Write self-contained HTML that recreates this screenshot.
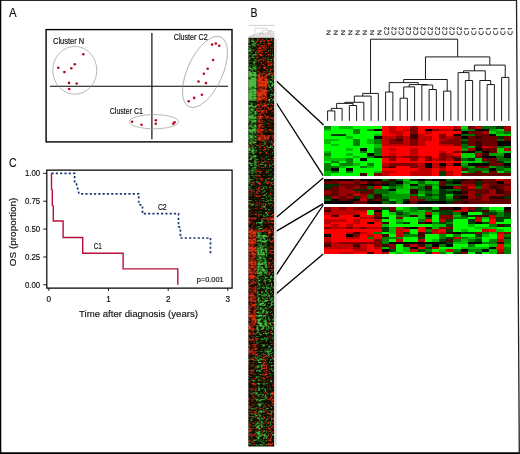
<!DOCTYPE html><html><head><meta charset="utf-8"><title>Figure</title>
<style>html,body{margin:0;padding:0;background:#fff}svg{display:block}text{font-family:"Liberation Sans",sans-serif;fill:#111;stroke:#111;stroke-width:0.17px}</style></head><body>
<svg width="520" height="454" viewBox="0 0 520 454">
<rect width="520" height="454" fill="#fff"/>
<g opacity="0.999">
<g stroke="#000" fill="none">
<line x1="0" y1="0.45" x2="517" y2="0.45" stroke-width="0.9"/>
<line x1="0.65" y1="0" x2="0.65" y2="454" stroke-width="1.3"/>
<line x1="0" y1="453.2" x2="520" y2="453.2" stroke-width="1.7"/>
<line x1="516.5" y1="0" x2="519.3" y2="454" stroke-width="1.3" stroke="#222"/>
</g>
<text x="9.1" y="16.9" font-size="12.4" text-anchor="start" textLength="7.6" lengthAdjust="spacingAndGlyphs">A</text>
<text x="250.6" y="17.1" font-size="12.3" text-anchor="start" textLength="7" lengthAdjust="spacingAndGlyphs">B</text>
<text x="9.0" y="167.0" font-size="12.6" text-anchor="start" textLength="7.6" lengthAdjust="spacingAndGlyphs">C</text>
<rect x="46.1" y="29.6" width="185.9" height="112.3" fill="none" stroke="#000" stroke-width="1.4"/>
<line x1="50" y1="86.2" x2="228" y2="86.2" stroke="#000" stroke-width="1.15"/>
<line x1="151.9" y1="33" x2="151.9" y2="139.2" stroke="#000" stroke-width="1.15"/>
<g fill="none" stroke="#9a9a9a" stroke-width="0.7">
<ellipse cx="74.8" cy="70.3" rx="22" ry="23.9"/>
<ellipse cx="154" cy="121.7" rx="24.5" ry="7.1"/>
<ellipse cx="205" cy="71.9" rx="17.5" ry="38.3" transform="rotate(24.5 205 71.9)"/>
</g>
<g fill="#b00d23">
<circle cx="83.3" cy="54.2" r="1.3"/>
<circle cx="74.8" cy="64.2" r="1.3"/>
<circle cx="71.3" cy="68.3" r="1.3"/>
<circle cx="58.3" cy="67.7" r="1.3"/>
<circle cx="64.4" cy="72.1" r="1.3"/>
<circle cx="69.0" cy="82.9" r="1.3"/>
<circle cx="76.7" cy="83.5" r="1.3"/>
<circle cx="69.2" cy="89.0" r="1.3"/>
<circle cx="212.1" cy="44.6" r="1.3"/>
<circle cx="215.8" cy="43.5" r="1.3"/>
<circle cx="219.2" cy="45.8" r="1.3"/>
<circle cx="213.1" cy="60" r="1.3"/>
<circle cx="207.7" cy="68.8" r="1.3"/>
<circle cx="203.8" cy="73.7" r="1.3"/>
<circle cx="198.5" cy="81.5" r="1.3"/>
<circle cx="206" cy="83.1" r="1.3"/>
<circle cx="201.9" cy="94.8" r="1.3"/>
<circle cx="194.2" cy="97.9" r="1.3"/>
<circle cx="188.7" cy="101.2" r="1.3"/>
<circle cx="132.1" cy="121.7" r="1.3"/>
<circle cx="141.5" cy="124.8" r="1.3"/>
<circle cx="155.8" cy="120.2" r="1.3"/>
<circle cx="155.8" cy="123.8" r="1.3"/>
<circle cx="174.6" cy="122.3" r="1.3"/>
<circle cx="173.3" cy="123.7" r="1.3"/>
</g>
<text x="53" y="43.5" font-size="8.6" text-anchor="start" textLength="31.2" lengthAdjust="spacingAndGlyphs">Cluster N</text>
<text x="173.7" y="39.6" font-size="8.6" text-anchor="start" textLength="34" lengthAdjust="spacingAndGlyphs">Cluster C2</text>
<text x="109.8" y="114" font-size="8.6" text-anchor="start" textLength="33.1" lengthAdjust="spacingAndGlyphs">Cluster C1</text>
<path d="M46.8 288.2V170.2H232.1V288.2Z" fill="none" stroke="#000" stroke-width="1.2"/>
<g stroke="#000" stroke-width="0.9">
<line x1="43.2" y1="173.3" x2="46.8" y2="173.3"/>
<line x1="43.2" y1="201.2" x2="46.8" y2="201.2"/>
<line x1="43.2" y1="229.1" x2="46.8" y2="229.1"/>
<line x1="43.2" y1="257.0" x2="46.8" y2="257.0"/>
<line x1="43.2" y1="284.8" x2="46.8" y2="284.8"/>
<line x1="48.9" y1="288.2" x2="48.9" y2="290.9"/>
<line x1="108.5" y1="288.2" x2="108.5" y2="290.9"/>
<line x1="168.2" y1="288.2" x2="168.2" y2="290.9"/>
<line x1="227.8" y1="288.2" x2="227.8" y2="290.9"/>
</g>
<text x="40.2" y="176.10000000000002" font-size="8.2" text-anchor="end" textLength="15.2" lengthAdjust="spacingAndGlyphs">1.00</text>
<text x="40.2" y="204.0" font-size="8.2" text-anchor="end" textLength="15.2" lengthAdjust="spacingAndGlyphs">0.75</text>
<text x="40.2" y="231.9" font-size="8.2" text-anchor="end" textLength="15.2" lengthAdjust="spacingAndGlyphs">0.50</text>
<text x="40.2" y="259.8" font-size="8.2" text-anchor="end" textLength="15.2" lengthAdjust="spacingAndGlyphs">0.25</text>
<text x="40.2" y="287.6" font-size="8.2" text-anchor="end" textLength="15.2" lengthAdjust="spacingAndGlyphs">0.00</text>
<text x="48.9" y="302.3" font-size="8.2" text-anchor="middle">0</text>
<text x="108.5" y="302.3" font-size="8.2" text-anchor="middle">1</text>
<text x="168.2" y="302.3" font-size="8.2" text-anchor="middle">2</text>
<text x="227.8" y="302.3" font-size="8.2" text-anchor="middle">3</text>
<text x="79" y="316.8" font-size="9.9" text-anchor="start" textLength="119" lengthAdjust="spacingAndGlyphs">Time after diagnosis (years)</text>
<text transform="translate(16.4,231.9) rotate(-90)" font-size="9.7" text-anchor="middle" textLength="68.6" lengthAdjust="spacingAndGlyphs">OS (proportion)</text>
<path d="M51.5 173.3V189.4L52.3 190V205.4L53.3 206V221H63.1V237.5H82.7V253.2H123.1V268.9H177.8V284.7" fill="none" stroke="#b5103a" stroke-width="1.4"/>
<path d="M51.5 173.3H74.6V183.3L76.5 184L79 193.8H138.7V204.4L142.5 205.5V213.7H178.5V226.5L180.4 227.5V238H210.5V253.7" fill="none" stroke="#1f3b73" stroke-width="1.7" stroke-dasharray="2.2 2.1"/>
<text x="157.9" y="209.7" font-size="8.2" text-anchor="start" textLength="8.8" lengthAdjust="spacingAndGlyphs">C2</text>
<text x="93.8" y="248.6" font-size="8.2" text-anchor="start" textLength="8" lengthAdjust="spacingAndGlyphs">C1</text>
<text x="196.7" y="282.1" font-size="7.6" text-anchor="start" textLength="27" lengthAdjust="spacingAndGlyphs">p=0.001</text>
<g shape-rendering="crispEdges">
<rect x="324.2" y="126.3" width="186.60" height="49.20" fill="#000"/>
<path fill="#008000" d="M324.20 126.30h7.23v2.49h-7.23zM324.20 153.36h7.23v2.49h-7.23zM324.20 163.20h7.23v7.41h-7.23zM331.38 160.74h7.23v2.49h-7.23zM331.38 165.66h7.23v2.49h-7.23zM331.38 170.58h7.23v2.49h-7.23zM338.55 163.20h7.23v2.49h-7.23zM345.73 158.28h7.23v7.41h-7.23zM345.73 170.58h7.23v2.49h-7.23zM352.91 128.76h7.23v4.95h-7.23zM352.91 138.60h7.23v7.41h-7.23zM360.08 150.90h7.23v2.49h-7.23zM360.08 165.66h7.23v2.49h-7.23zM367.26 128.76h7.23v2.49h-7.23zM367.26 155.82h7.23v2.49h-7.23zM367.26 163.20h7.23v2.49h-7.23zM374.44 138.60h7.23v4.95h-7.23zM374.44 148.44h7.23v7.41h-7.23z"/>
<path fill="#00bf00" d="M324.20 128.76h7.23v2.49h-7.23zM324.20 138.60h7.23v4.95h-7.23zM324.20 150.90h7.23v2.49h-7.23zM324.20 155.82h7.23v4.95h-7.23zM324.20 170.58h7.23v4.95h-7.23zM331.38 138.60h7.23v2.49h-7.23zM331.38 143.52h7.23v2.49h-7.23zM331.38 158.28h7.23v2.49h-7.23zM338.55 126.30h7.23v2.49h-7.23zM338.55 158.28h7.23v2.49h-7.23zM338.55 165.66h7.23v2.49h-7.23zM345.73 126.30h7.23v2.49h-7.23zM345.73 136.14h7.23v2.49h-7.23zM345.73 148.44h7.23v2.49h-7.23zM345.73 153.36h7.23v2.49h-7.23zM352.91 155.82h7.23v2.49h-7.23zM352.91 163.20h7.23v2.49h-7.23zM367.26 138.60h7.23v4.95h-7.23zM367.26 165.66h7.23v2.49h-7.23zM374.44 133.68h7.23v2.49h-7.23zM374.44 143.52h7.23v4.95h-7.23zM374.44 170.58h7.23v2.49h-7.23z"/>
<path fill="#00ff00" d="M324.20 131.22h7.23v7.41h-7.23zM324.20 143.52h7.23v7.41h-7.23zM324.20 160.74h7.23v2.49h-7.23zM331.38 126.30h7.23v7.41h-7.23zM331.38 136.14h7.23v2.49h-7.23zM331.38 141.06h7.23v2.49h-7.23zM331.38 145.98h7.23v12.33h-7.23zM331.38 163.20h7.23v2.49h-7.23zM331.38 173.04h7.23v2.49h-7.23zM338.55 128.76h7.23v4.95h-7.23zM338.55 136.14h7.23v22.17h-7.23zM338.55 160.74h7.23v2.49h-7.23zM338.55 168.12h7.23v7.41h-7.23zM345.73 128.76h7.23v7.41h-7.23zM345.73 138.60h7.23v9.87h-7.23zM345.73 150.90h7.23v2.49h-7.23zM345.73 155.82h7.23v2.49h-7.23zM345.73 165.66h7.23v2.49h-7.23zM345.73 173.04h7.23v2.49h-7.23zM352.91 126.30h7.23v2.49h-7.23zM352.91 133.68h7.23v4.95h-7.23zM352.91 145.98h7.23v9.87h-7.23zM352.91 158.28h7.23v4.95h-7.23zM352.91 165.66h7.23v9.87h-7.23zM360.08 126.30h7.23v22.17h-7.23zM360.08 153.36h7.23v4.95h-7.23zM360.08 160.74h7.23v4.95h-7.23zM360.08 168.12h7.23v4.95h-7.23zM367.26 126.30h7.23v2.49h-7.23zM367.26 131.22h7.23v7.41h-7.23zM367.26 143.52h7.23v9.87h-7.23zM367.26 158.28h7.23v4.95h-7.23zM367.26 168.12h7.23v7.41h-7.23zM374.44 126.30h7.23v2.49h-7.23zM374.44 131.22h7.23v2.49h-7.23zM374.44 158.28h7.23v12.33h-7.23z"/>
<path fill="#003d00" d="M331.38 133.68h7.23v2.49h-7.23zM338.55 133.68h7.23v2.49h-7.23zM439.03 170.58h7.23v4.95h-7.23z"/>
<path fill="#420000" d="M360.08 173.04h7.23v2.49h-7.23zM388.79 165.66h7.23v2.49h-7.23zM395.97 138.60h7.23v2.49h-7.23zM410.32 133.68h7.23v4.95h-7.23zM453.38 128.76h7.23v2.49h-7.23zM453.38 158.28h7.23v2.49h-7.23z"/>
<path fill="#800000" d="M374.44 173.04h7.23v2.49h-7.23zM381.62 155.82h7.23v2.49h-7.23zM381.62 165.66h7.23v2.49h-7.23zM388.79 138.60h7.23v4.95h-7.23zM388.79 155.82h7.23v4.95h-7.23zM388.79 163.20h7.23v2.49h-7.23zM395.97 136.14h7.23v2.49h-7.23zM395.97 141.06h7.23v2.49h-7.23zM395.97 163.20h7.23v2.49h-7.23zM403.15 155.82h7.23v2.49h-7.23zM403.15 163.20h7.23v2.49h-7.23zM410.32 126.30h7.23v7.41h-7.23zM410.32 138.60h7.23v7.41h-7.23zM410.32 155.82h7.23v4.95h-7.23zM410.32 163.20h7.23v4.95h-7.23zM424.68 155.82h7.23v4.95h-7.23zM431.85 128.76h7.23v2.49h-7.23zM439.03 133.68h7.23v4.95h-7.23zM439.03 141.06h7.23v2.49h-7.23zM439.03 153.36h7.23v7.41h-7.23zM439.03 165.66h7.23v2.49h-7.23zM446.21 138.60h7.23v4.95h-7.23zM446.21 155.82h7.23v2.49h-7.23zM453.38 136.14h7.23v9.87h-7.23zM453.38 150.90h7.23v2.49h-7.23zM453.38 155.82h7.23v2.49h-7.23z"/>
<path fill="#ff0000" d="M381.62 126.30h7.23v9.87h-7.23zM381.62 145.98h7.23v9.87h-7.23zM381.62 158.28h7.23v4.95h-7.23zM381.62 168.12h7.23v2.49h-7.23zM388.79 133.68h7.23v2.49h-7.23zM388.79 145.98h7.23v2.49h-7.23zM388.79 150.90h7.23v2.49h-7.23zM388.79 160.74h7.23v2.49h-7.23zM388.79 168.12h7.23v2.49h-7.23zM388.79 173.04h7.23v2.49h-7.23zM395.97 126.30h7.23v4.95h-7.23zM395.97 145.98h7.23v9.87h-7.23zM395.97 158.28h7.23v4.95h-7.23zM395.97 165.66h7.23v9.87h-7.23zM403.15 126.30h7.23v2.49h-7.23zM403.15 131.22h7.23v4.95h-7.23zM403.15 145.98h7.23v9.87h-7.23zM403.15 158.28h7.23v4.95h-7.23zM403.15 165.66h7.23v9.87h-7.23zM410.32 145.98h7.23v2.49h-7.23zM410.32 160.74h7.23v2.49h-7.23zM410.32 168.12h7.23v2.49h-7.23zM417.50 126.30h7.23v7.41h-7.23zM417.50 145.98h7.23v9.87h-7.23zM417.50 158.28h7.23v4.95h-7.23zM424.68 126.30h7.23v2.49h-7.23zM424.68 133.68h7.23v2.49h-7.23zM424.68 141.06h7.23v14.79h-7.23zM424.68 160.74h7.23v2.49h-7.23zM431.85 126.30h7.23v2.49h-7.23zM431.85 131.22h7.23v27.09h-7.23zM431.85 160.74h7.23v2.49h-7.23zM431.85 168.12h7.23v7.41h-7.23zM439.03 126.30h7.23v2.49h-7.23zM439.03 131.22h7.23v2.49h-7.23zM439.03 145.98h7.23v4.95h-7.23zM439.03 160.74h7.23v2.49h-7.23zM446.21 126.30h7.23v2.49h-7.23zM446.21 131.22h7.23v4.95h-7.23zM446.21 145.98h7.23v7.41h-7.23zM446.21 160.74h7.23v2.49h-7.23zM446.21 165.66h7.23v4.95h-7.23zM453.38 131.22h7.23v2.49h-7.23zM453.38 145.98h7.23v4.95h-7.23zM453.38 153.36h7.23v2.49h-7.23zM453.38 160.74h7.23v2.49h-7.23zM453.38 165.66h7.23v9.87h-7.23z"/>
<path fill="#bf0000" d="M381.62 136.14h7.23v9.87h-7.23zM381.62 163.20h7.23v2.49h-7.23zM381.62 170.58h7.23v4.95h-7.23zM388.79 126.30h7.23v7.41h-7.23zM388.79 136.14h7.23v2.49h-7.23zM388.79 143.52h7.23v2.49h-7.23zM388.79 148.44h7.23v2.49h-7.23zM388.79 153.36h7.23v2.49h-7.23zM388.79 170.58h7.23v2.49h-7.23zM395.97 131.22h7.23v4.95h-7.23zM395.97 143.52h7.23v2.49h-7.23zM395.97 155.82h7.23v2.49h-7.23zM403.15 128.76h7.23v2.49h-7.23zM403.15 136.14h7.23v9.87h-7.23zM410.32 148.44h7.23v7.41h-7.23zM410.32 170.58h7.23v4.95h-7.23zM417.50 133.68h7.23v12.33h-7.23zM417.50 155.82h7.23v2.49h-7.23zM417.50 163.20h7.23v12.33h-7.23zM424.68 131.22h7.23v2.49h-7.23zM424.68 136.14h7.23v4.95h-7.23zM424.68 168.12h7.23v7.41h-7.23zM431.85 158.28h7.23v2.49h-7.23zM431.85 163.20h7.23v4.95h-7.23zM439.03 128.76h7.23v2.49h-7.23zM439.03 138.60h7.23v2.49h-7.23zM439.03 143.52h7.23v2.49h-7.23zM439.03 150.90h7.23v2.49h-7.23zM439.03 168.12h7.23v2.49h-7.23zM446.21 128.76h7.23v2.49h-7.23zM446.21 136.14h7.23v2.49h-7.23zM446.21 143.52h7.23v2.49h-7.23zM446.21 153.36h7.23v2.49h-7.23zM446.21 158.28h7.23v2.49h-7.23zM446.21 163.20h7.23v2.49h-7.23zM446.21 170.58h7.23v4.95h-7.23zM453.38 126.30h7.23v2.49h-7.23z"/>
<path fill="#00d100" d="M460.56 126.30h7.23v2.49h-7.23zM460.56 153.36h7.23v4.95h-7.23zM460.56 160.74h7.23v2.49h-7.23zM460.56 170.58h7.23v2.49h-7.23zM467.74 153.36h7.23v4.95h-7.23zM467.74 160.74h7.23v2.49h-7.23zM474.92 158.28h7.23v4.95h-7.23zM489.27 131.22h7.23v2.49h-7.23zM496.45 128.76h7.23v2.49h-7.23zM496.45 133.68h7.23v2.49h-7.23zM496.45 148.44h7.23v4.95h-7.23zM496.45 170.58h7.23v2.49h-7.23zM503.62 133.68h7.23v2.49h-7.23zM503.62 150.90h7.23v2.49h-7.23z"/>
<path fill="#009d00" d="M460.56 128.76h7.23v2.49h-7.23zM460.56 148.44h7.23v2.49h-7.23zM460.56 163.20h7.23v2.49h-7.23zM467.74 145.98h7.23v2.49h-7.23zM467.74 165.66h7.23v2.49h-7.23zM482.09 170.58h7.23v2.49h-7.23zM489.27 128.76h7.23v2.49h-7.23zM489.27 153.36h7.23v2.49h-7.23zM489.27 165.66h7.23v2.49h-7.23zM496.45 131.22h7.23v2.49h-7.23zM496.45 153.36h7.23v2.49h-7.23zM503.62 145.98h7.23v2.49h-7.23zM503.62 160.74h7.23v2.49h-7.23zM503.62 168.12h7.23v2.49h-7.23z"/>
<path fill="#006900" d="M460.56 133.68h7.23v2.49h-7.23zM460.56 138.60h7.23v2.49h-7.23zM460.56 143.52h7.23v4.95h-7.23zM460.56 158.28h7.23v2.49h-7.23zM460.56 165.66h7.23v2.49h-7.23zM467.74 128.76h7.23v2.49h-7.23zM467.74 133.68h7.23v2.49h-7.23zM467.74 168.12h7.23v4.95h-7.23zM474.92 150.90h7.23v2.49h-7.23zM474.92 168.12h7.23v2.49h-7.23zM482.09 126.30h7.23v2.49h-7.23zM482.09 160.74h7.23v2.49h-7.23zM482.09 168.12h7.23v2.49h-7.23zM489.27 126.30h7.23v2.49h-7.23zM496.45 138.60h7.23v2.49h-7.23zM496.45 145.98h7.23v2.49h-7.23zM496.45 155.82h7.23v4.95h-7.23zM496.45 165.66h7.23v4.95h-7.23zM503.62 131.22h7.23v2.49h-7.23zM503.62 158.28h7.23v2.49h-7.23zM503.62 170.58h7.23v2.49h-7.23z"/>
<path fill="#003200" d="M460.56 141.06h7.23v2.49h-7.23zM467.74 158.28h7.23v2.49h-7.23zM496.45 126.30h7.23v2.49h-7.23zM496.45 136.14h7.23v2.49h-7.23zM496.45 160.74h7.23v2.49h-7.23zM503.62 165.66h7.23v2.49h-7.23z"/>
<path fill="#360000" d="M460.56 150.90h7.23v2.49h-7.23zM474.92 136.14h7.23v2.49h-7.23zM474.92 141.06h7.23v7.41h-7.23zM482.09 153.36h7.23v2.49h-7.23z"/>
<path fill="#690000" d="M460.56 168.12h7.23v2.49h-7.23zM460.56 173.04h7.23v2.49h-7.23zM467.74 126.30h7.23v2.49h-7.23zM467.74 131.22h7.23v2.49h-7.23zM467.74 136.14h7.23v9.87h-7.23zM467.74 173.04h7.23v2.49h-7.23zM474.92 131.22h7.23v4.95h-7.23zM474.92 138.60h7.23v2.49h-7.23zM474.92 155.82h7.23v2.49h-7.23zM474.92 165.66h7.23v2.49h-7.23zM474.92 170.58h7.23v4.95h-7.23zM482.09 133.68h7.23v12.33h-7.23zM482.09 148.44h7.23v2.49h-7.23zM482.09 158.28h7.23v2.49h-7.23zM482.09 165.66h7.23v2.49h-7.23zM482.09 173.04h7.23v2.49h-7.23zM489.27 136.14h7.23v9.87h-7.23zM489.27 148.44h7.23v4.95h-7.23zM489.27 158.28h7.23v7.41h-7.23zM489.27 170.58h7.23v4.95h-7.23zM496.45 163.20h7.23v2.49h-7.23zM496.45 173.04h7.23v2.49h-7.23zM503.62 136.14h7.23v4.95h-7.23zM503.62 173.04h7.23v2.49h-7.23z"/>
<path fill="#9d0000" d="M467.74 148.44h7.23v2.49h-7.23zM474.92 153.36h7.23v2.49h-7.23zM482.09 131.22h7.23v2.49h-7.23zM489.27 145.98h7.23v2.49h-7.23zM503.62 126.30h7.23v4.95h-7.23zM503.62 148.44h7.23v2.49h-7.23z"/>
<path fill="#d10000" d="M474.92 126.30h7.23v2.49h-7.23zM482.09 145.98h7.23v2.49h-7.23z"/>
<rect x="324.2" y="178.75" width="186.60" height="24.75" fill="#000"/>
<path fill="#660000" d="M324.20 181.22h7.23v2.50h-7.23zM324.20 188.65h7.23v2.50h-7.23zM324.20 193.60h7.23v2.50h-7.23zM331.38 181.22h7.23v2.50h-7.23zM331.38 186.18h7.23v9.93h-7.23zM338.55 183.70h7.23v2.50h-7.23zM338.55 196.07h7.23v4.98h-7.23zM345.73 183.70h7.23v4.98h-7.23zM345.73 193.60h7.23v2.50h-7.23zM352.91 178.75h7.23v7.46h-7.23zM352.91 201.03h7.23v2.50h-7.23zM360.08 186.18h7.23v2.50h-7.23zM360.08 191.12h7.23v2.50h-7.23zM360.08 201.03h7.23v2.50h-7.23zM367.26 188.65h7.23v4.98h-7.23zM374.44 181.22h7.23v2.50h-7.23zM374.44 198.55h7.23v2.50h-7.23zM410.32 201.03h7.23v2.50h-7.23zM417.50 198.55h7.23v2.50h-7.23zM439.03 181.22h7.23v4.98h-7.23zM453.38 201.03h7.23v2.50h-7.23zM460.56 181.22h7.23v2.50h-7.23zM460.56 186.18h7.23v4.98h-7.23zM460.56 193.60h7.23v2.50h-7.23zM460.56 198.55h7.23v2.50h-7.23zM467.74 178.75h7.23v4.98h-7.23zM467.74 188.65h7.23v2.50h-7.23zM467.74 198.55h7.23v4.98h-7.23zM474.92 188.65h7.23v4.98h-7.23zM474.92 196.07h7.23v7.46h-7.23zM482.09 178.75h7.23v4.98h-7.23zM482.09 188.65h7.23v4.98h-7.23zM482.09 201.03h7.23v2.50h-7.23zM489.27 178.75h7.23v7.46h-7.23zM489.27 198.55h7.23v4.98h-7.23zM496.45 183.70h7.23v4.98h-7.23zM496.45 198.55h7.23v4.98h-7.23zM503.62 183.70h7.23v2.50h-7.23zM503.62 191.12h7.23v4.98h-7.23zM503.62 198.55h7.23v4.98h-7.23z"/>
<path fill="#003100" d="M324.20 183.70h7.23v4.98h-7.23zM324.20 196.07h7.23v2.50h-7.23zM331.38 183.70h7.23v2.50h-7.23zM352.91 188.65h7.23v2.50h-7.23zM352.91 196.07h7.23v2.50h-7.23zM360.08 188.65h7.23v2.50h-7.23zM381.62 198.55h7.23v2.50h-7.23zM388.79 181.22h7.23v4.98h-7.23zM388.79 201.03h7.23v2.50h-7.23zM403.15 198.55h7.23v2.50h-7.23zM410.32 178.75h7.23v2.50h-7.23zM424.68 178.75h7.23v2.50h-7.23zM424.68 188.65h7.23v2.50h-7.23zM424.68 193.60h7.23v2.50h-7.23zM439.03 188.65h7.23v12.40h-7.23zM446.21 181.22h7.23v2.50h-7.23zM446.21 191.12h7.23v2.50h-7.23zM446.21 201.03h7.23v2.50h-7.23zM453.38 178.75h7.23v2.50h-7.23zM453.38 193.60h7.23v2.50h-7.23zM453.38 198.55h7.23v2.50h-7.23zM474.92 181.22h7.23v4.98h-7.23zM474.92 193.60h7.23v2.50h-7.23zM503.62 196.07h7.23v2.50h-7.23z"/>
<path fill="#990000" d="M324.20 191.12h7.23v2.50h-7.23zM331.38 196.07h7.23v2.50h-7.23zM338.55 181.22h7.23v2.50h-7.23zM338.55 186.18h7.23v9.93h-7.23zM345.73 181.22h7.23v2.50h-7.23zM345.73 188.65h7.23v4.98h-7.23zM345.73 196.07h7.23v2.50h-7.23zM352.91 186.18h7.23v2.50h-7.23zM352.91 191.12h7.23v2.50h-7.23zM360.08 181.22h7.23v2.50h-7.23zM360.08 193.60h7.23v4.98h-7.23zM410.32 196.07h7.23v4.98h-7.23zM453.38 186.18h7.23v2.50h-7.23zM460.56 183.70h7.23v2.50h-7.23zM467.74 183.70h7.23v2.50h-7.23zM467.74 191.12h7.23v7.46h-7.23zM482.09 183.70h7.23v4.98h-7.23zM482.09 193.60h7.23v7.46h-7.23zM489.27 188.65h7.23v7.46h-7.23zM496.45 193.60h7.23v2.50h-7.23zM503.62 178.75h7.23v4.98h-7.23zM503.62 186.18h7.23v4.98h-7.23z"/>
<path fill="#006600" d="M324.20 198.55h7.23v2.50h-7.23zM367.26 186.18h7.23v2.50h-7.23zM367.26 193.60h7.23v4.98h-7.23zM374.44 188.65h7.23v4.98h-7.23zM381.62 178.75h7.23v2.50h-7.23zM381.62 188.65h7.23v4.98h-7.23zM381.62 196.07h7.23v2.50h-7.23zM381.62 201.03h7.23v2.50h-7.23zM388.79 186.18h7.23v2.50h-7.23zM395.97 178.75h7.23v2.50h-7.23zM395.97 183.70h7.23v2.50h-7.23zM410.32 193.60h7.23v2.50h-7.23zM417.50 181.22h7.23v2.50h-7.23zM417.50 186.18h7.23v4.98h-7.23zM417.50 196.07h7.23v2.50h-7.23zM424.68 183.70h7.23v2.50h-7.23zM424.68 191.12h7.23v2.50h-7.23zM424.68 196.07h7.23v4.98h-7.23zM431.85 193.60h7.23v2.50h-7.23zM431.85 198.55h7.23v2.50h-7.23zM446.21 178.75h7.23v2.50h-7.23zM446.21 183.70h7.23v2.50h-7.23zM446.21 188.65h7.23v2.50h-7.23zM446.21 198.55h7.23v2.50h-7.23zM453.38 183.70h7.23v2.50h-7.23zM453.38 188.65h7.23v2.50h-7.23zM474.92 186.18h7.23v2.50h-7.23z"/>
<path fill="#350000" d="M331.38 178.75h7.23v2.50h-7.23zM345.73 198.55h7.23v2.50h-7.23zM360.08 183.70h7.23v2.50h-7.23zM367.26 181.22h7.23v2.50h-7.23zM367.26 198.55h7.23v2.50h-7.23zM374.44 183.70h7.23v2.50h-7.23zM374.44 193.60h7.23v4.98h-7.23zM381.62 181.22h7.23v2.50h-7.23zM388.79 178.75h7.23v2.50h-7.23zM410.32 188.65h7.23v4.98h-7.23zM424.68 186.18h7.23v2.50h-7.23zM453.38 196.07h7.23v2.50h-7.23zM460.56 178.75h7.23v2.50h-7.23zM460.56 191.12h7.23v2.50h-7.23zM460.56 201.03h7.23v2.50h-7.23zM474.92 178.75h7.23v2.50h-7.23zM489.27 186.18h7.23v2.50h-7.23zM489.27 196.07h7.23v2.50h-7.23zM496.45 188.65h7.23v4.98h-7.23zM496.45 196.07h7.23v2.50h-7.23z"/>
<path fill="#cc0000" d="M352.91 193.60h7.23v2.50h-7.23zM360.08 198.55h7.23v2.50h-7.23zM374.44 186.18h7.23v2.50h-7.23zM467.74 186.18h7.23v2.50h-7.23zM496.45 178.75h7.23v2.50h-7.23z"/>
<path fill="#00cc00" d="M381.62 186.18h7.23v2.50h-7.23zM388.79 198.55h7.23v2.50h-7.23zM395.97 188.65h7.23v4.98h-7.23zM403.15 178.75h7.23v2.50h-7.23zM403.15 183.70h7.23v9.93h-7.23zM410.32 181.22h7.23v2.50h-7.23zM417.50 193.60h7.23v2.50h-7.23zM424.68 181.22h7.23v2.50h-7.23zM431.85 181.22h7.23v2.50h-7.23zM431.85 186.18h7.23v2.50h-7.23zM446.21 193.60h7.23v2.50h-7.23z"/>
<path fill="#009900" d="M381.62 193.60h7.23v2.50h-7.23zM388.79 191.12h7.23v7.46h-7.23zM395.97 186.18h7.23v2.50h-7.23zM395.97 193.60h7.23v9.93h-7.23zM403.15 181.22h7.23v2.50h-7.23zM403.15 193.60h7.23v4.98h-7.23zM410.32 186.18h7.23v2.50h-7.23zM417.50 183.70h7.23v2.50h-7.23zM417.50 191.12h7.23v2.50h-7.23zM431.85 183.70h7.23v2.50h-7.23zM431.85 188.65h7.23v4.98h-7.23zM431.85 196.07h7.23v2.50h-7.23zM446.21 196.07h7.23v2.50h-7.23z"/>
<rect x="324.2" y="207.1" width="186.60" height="46.90" fill="#000"/>
<path fill="#800000" d="M324.20 207.10h7.23v2.50h-7.23zM324.20 226.85h7.23v2.50h-7.23zM324.20 241.66h7.23v2.50h-7.23zM338.55 207.10h7.23v2.50h-7.23zM338.55 241.66h7.23v2.50h-7.23zM345.73 226.85h7.23v2.50h-7.23zM345.73 241.66h7.23v2.50h-7.23zM352.91 207.10h7.23v2.50h-7.23zM352.91 234.25h7.23v2.50h-7.23zM352.91 241.66h7.23v2.50h-7.23zM352.91 246.59h7.23v2.50h-7.23zM360.08 207.10h7.23v2.50h-7.23zM360.08 226.85h7.23v2.50h-7.23zM360.08 241.66h7.23v2.50h-7.23zM367.26 207.10h7.23v2.50h-7.23zM367.26 241.66h7.23v2.50h-7.23zM374.44 207.10h7.23v2.50h-7.23zM374.44 212.04h7.23v4.97h-7.23zM374.44 239.19h7.23v7.44h-7.23zM388.79 207.10h7.23v2.50h-7.23zM388.79 244.13h7.23v4.97h-7.23zM395.97 216.97h7.23v2.50h-7.23zM439.03 214.51h7.23v4.97h-7.23zM439.03 226.85h7.23v2.50h-7.23zM446.21 214.51h7.23v4.97h-7.23zM446.21 226.85h7.23v2.50h-7.23zM460.56 251.53h7.23v2.50h-7.23zM467.74 207.10h7.23v2.50h-7.23zM474.92 231.78h7.23v2.50h-7.23zM496.45 251.53h7.23v2.50h-7.23zM503.62 231.78h7.23v2.50h-7.23z"/>
<path fill="#420000" d="M324.20 209.57h7.23v2.50h-7.23zM324.20 244.13h7.23v2.50h-7.23zM331.38 214.51h7.23v2.50h-7.23zM352.91 231.78h7.23v2.50h-7.23zM352.91 244.13h7.23v2.50h-7.23zM367.26 251.53h7.23v2.50h-7.23zM374.44 216.97h7.23v2.50h-7.23zM381.62 221.91h7.23v2.50h-7.23zM381.62 234.25h7.23v2.50h-7.23zM381.62 244.13h7.23v2.50h-7.23zM388.79 209.57h7.23v2.50h-7.23zM403.15 226.85h7.23v2.50h-7.23zM403.15 244.13h7.23v2.50h-7.23zM410.32 214.51h7.23v2.50h-7.23zM417.50 221.91h7.23v2.50h-7.23zM417.50 231.78h7.23v4.97h-7.23zM417.50 244.13h7.23v2.50h-7.23zM424.68 226.85h7.23v2.50h-7.23zM439.03 207.10h7.23v2.50h-7.23zM446.21 207.10h7.23v2.50h-7.23zM446.21 231.78h7.23v2.50h-7.23zM446.21 239.19h7.23v2.50h-7.23zM467.74 209.57h7.23v2.50h-7.23zM474.92 214.51h7.23v2.50h-7.23zM482.09 209.57h7.23v2.50h-7.23zM482.09 214.51h7.23v2.50h-7.23zM496.45 224.38h7.23v2.50h-7.23zM496.45 241.66h7.23v2.50h-7.23zM503.62 209.57h7.23v2.50h-7.23z"/>
<path fill="#bf0000" d="M324.20 212.04h7.23v2.50h-7.23zM324.20 219.44h7.23v4.97h-7.23zM324.20 236.72h7.23v4.97h-7.23zM324.20 246.59h7.23v2.50h-7.23zM331.38 207.10h7.23v7.44h-7.23zM331.38 219.44h7.23v2.50h-7.23zM331.38 224.38h7.23v4.97h-7.23zM331.38 241.66h7.23v7.44h-7.23zM338.55 209.57h7.23v4.97h-7.23zM338.55 219.44h7.23v2.50h-7.23zM338.55 226.85h7.23v2.50h-7.23zM338.55 244.13h7.23v4.97h-7.23zM338.55 251.53h7.23v2.50h-7.23zM345.73 207.10h7.23v7.44h-7.23zM345.73 224.38h7.23v2.50h-7.23zM345.73 231.78h7.23v2.50h-7.23zM345.73 236.72h7.23v2.50h-7.23zM345.73 244.13h7.23v4.97h-7.23zM345.73 251.53h7.23v2.50h-7.23zM352.91 209.57h7.23v4.97h-7.23zM352.91 219.44h7.23v4.97h-7.23zM352.91 226.85h7.23v2.50h-7.23zM352.91 236.72h7.23v2.50h-7.23zM352.91 249.06h7.23v2.50h-7.23zM360.08 209.57h7.23v2.50h-7.23zM360.08 216.97h7.23v2.50h-7.23zM360.08 231.78h7.23v2.50h-7.23zM360.08 244.13h7.23v7.44h-7.23zM367.26 216.97h7.23v2.50h-7.23zM367.26 226.85h7.23v2.50h-7.23zM367.26 234.25h7.23v2.50h-7.23zM374.44 219.44h7.23v2.50h-7.23zM374.44 226.85h7.23v2.50h-7.23zM374.44 246.59h7.23v2.50h-7.23zM381.62 251.53h7.23v2.50h-7.23zM395.97 226.85h7.23v9.90h-7.23zM395.97 239.19h7.23v2.50h-7.23zM410.32 244.13h7.23v2.50h-7.23zM410.32 249.06h7.23v2.50h-7.23zM417.50 239.19h7.23v2.50h-7.23zM424.68 212.04h7.23v2.50h-7.23zM431.85 229.32h7.23v4.97h-7.23zM431.85 246.59h7.23v2.50h-7.23zM439.03 219.44h7.23v2.50h-7.23zM439.03 231.78h7.23v2.50h-7.23zM446.21 249.06h7.23v2.50h-7.23zM453.38 209.57h7.23v2.50h-7.23zM453.38 236.72h7.23v2.50h-7.23zM460.56 207.10h7.23v4.97h-7.23zM474.92 216.97h7.23v4.97h-7.23zM482.09 229.32h7.23v2.50h-7.23zM489.27 214.51h7.23v4.97h-7.23zM496.45 231.78h7.23v2.50h-7.23zM496.45 239.19h7.23v2.50h-7.23zM496.45 249.06h7.23v2.50h-7.23z"/>
<path fill="#ff0000" d="M324.20 214.51h7.23v4.97h-7.23zM324.20 224.38h7.23v2.50h-7.23zM324.20 229.32h7.23v4.97h-7.23zM324.20 249.06h7.23v4.97h-7.23zM331.38 216.97h7.23v2.50h-7.23zM331.38 221.91h7.23v2.50h-7.23zM331.38 229.32h7.23v12.37h-7.23zM331.38 249.06h7.23v4.97h-7.23zM338.55 214.51h7.23v4.97h-7.23zM338.55 221.91h7.23v4.97h-7.23zM338.55 229.32h7.23v12.37h-7.23zM338.55 249.06h7.23v2.50h-7.23zM345.73 214.51h7.23v9.90h-7.23zM345.73 229.32h7.23v2.50h-7.23zM345.73 239.19h7.23v2.50h-7.23zM345.73 249.06h7.23v2.50h-7.23zM352.91 216.97h7.23v2.50h-7.23zM352.91 224.38h7.23v2.50h-7.23zM352.91 229.32h7.23v2.50h-7.23zM352.91 239.19h7.23v2.50h-7.23zM352.91 251.53h7.23v2.50h-7.23zM360.08 212.04h7.23v4.97h-7.23zM360.08 219.44h7.23v7.44h-7.23zM360.08 229.32h7.23v2.50h-7.23zM360.08 234.25h7.23v7.44h-7.23zM360.08 251.53h7.23v2.50h-7.23zM367.26 214.51h7.23v2.50h-7.23zM367.26 219.44h7.23v2.50h-7.23zM367.26 224.38h7.23v2.50h-7.23zM367.26 229.32h7.23v4.97h-7.23zM367.26 239.19h7.23v2.50h-7.23zM367.26 244.13h7.23v7.44h-7.23zM374.44 221.91h7.23v4.97h-7.23zM374.44 229.32h7.23v2.50h-7.23zM374.44 234.25h7.23v4.97h-7.23zM374.44 249.06h7.23v4.97h-7.23zM403.15 229.32h7.23v2.50h-7.23zM417.50 226.85h7.23v4.97h-7.23zM417.50 246.59h7.23v2.50h-7.23zM424.68 219.44h7.23v2.50h-7.23zM431.85 251.53h7.23v2.50h-7.23zM439.03 229.32h7.23v2.50h-7.23zM489.27 219.44h7.23v4.97h-7.23zM489.27 229.32h7.23v2.50h-7.23zM496.45 234.25h7.23v4.97h-7.23zM496.45 244.13h7.23v4.97h-7.23z"/>
<path fill="#00ff00" d="M367.26 209.57h7.23v4.97h-7.23zM381.62 209.57h7.23v7.44h-7.23zM381.62 219.44h7.23v2.50h-7.23zM381.62 231.78h7.23v2.50h-7.23zM388.79 214.51h7.23v12.37h-7.23zM388.79 234.25h7.23v2.50h-7.23zM388.79 239.19h7.23v2.50h-7.23zM388.79 251.53h7.23v2.50h-7.23zM395.97 207.10h7.23v2.50h-7.23zM395.97 224.38h7.23v2.50h-7.23zM395.97 244.13h7.23v7.44h-7.23zM403.15 216.97h7.23v4.97h-7.23zM403.15 224.38h7.23v2.50h-7.23zM403.15 236.72h7.23v4.97h-7.23zM403.15 251.53h7.23v2.50h-7.23zM410.32 216.97h7.23v9.90h-7.23zM410.32 229.32h7.23v4.97h-7.23zM410.32 236.72h7.23v4.97h-7.23zM410.32 251.53h7.23v2.50h-7.23zM417.50 224.38h7.23v2.50h-7.23zM417.50 251.53h7.23v2.50h-7.23zM424.68 224.38h7.23v2.50h-7.23zM424.68 234.25h7.23v7.44h-7.23zM431.85 214.51h7.23v7.44h-7.23zM431.85 234.25h7.23v4.97h-7.23zM431.85 249.06h7.23v2.50h-7.23zM439.03 246.59h7.23v2.50h-7.23zM446.21 234.25h7.23v2.50h-7.23zM446.21 246.59h7.23v2.50h-7.23zM446.21 251.53h7.23v2.50h-7.23zM453.38 219.44h7.23v12.37h-7.23zM453.38 244.13h7.23v4.97h-7.23zM460.56 219.44h7.23v9.90h-7.23zM460.56 234.25h7.23v2.50h-7.23zM460.56 244.13h7.23v2.50h-7.23zM467.74 212.04h7.23v2.50h-7.23zM467.74 216.97h7.23v2.50h-7.23zM467.74 226.85h7.23v4.97h-7.23zM467.74 234.25h7.23v2.50h-7.23zM467.74 251.53h7.23v2.50h-7.23zM474.92 212.04h7.23v2.50h-7.23zM474.92 224.38h7.23v2.50h-7.23zM474.92 229.32h7.23v2.50h-7.23zM474.92 244.13h7.23v2.50h-7.23zM482.09 219.44h7.23v2.50h-7.23zM482.09 224.38h7.23v2.50h-7.23zM482.09 236.72h7.23v4.97h-7.23zM482.09 244.13h7.23v2.50h-7.23zM482.09 251.53h7.23v2.50h-7.23zM489.27 207.10h7.23v2.50h-7.23zM489.27 234.25h7.23v4.97h-7.23zM496.45 207.10h7.23v2.50h-7.23zM496.45 221.91h7.23v2.50h-7.23zM496.45 226.85h7.23v2.50h-7.23zM503.62 219.44h7.23v4.97h-7.23zM503.62 226.85h7.23v4.97h-7.23z"/>
<path fill="#008000" d="M367.26 236.72h7.23v2.50h-7.23zM374.44 231.78h7.23v2.50h-7.23zM381.62 236.72h7.23v7.44h-7.23zM388.79 236.72h7.23v2.50h-7.23zM395.97 209.57h7.23v2.50h-7.23zM395.97 214.51h7.23v2.50h-7.23zM395.97 221.91h7.23v2.50h-7.23zM395.97 236.72h7.23v2.50h-7.23zM403.15 212.04h7.23v4.97h-7.23zM403.15 234.25h7.23v2.50h-7.23zM410.32 207.10h7.23v4.97h-7.23zM410.32 234.25h7.23v2.50h-7.23zM417.50 219.44h7.23v2.50h-7.23zM424.68 209.57h7.23v2.50h-7.23zM424.68 229.32h7.23v2.50h-7.23zM424.68 244.13h7.23v2.50h-7.23zM424.68 249.06h7.23v2.50h-7.23zM431.85 221.91h7.23v2.50h-7.23zM439.03 234.25h7.23v4.97h-7.23zM439.03 244.13h7.23v2.50h-7.23zM439.03 251.53h7.23v2.50h-7.23zM446.21 221.91h7.23v2.50h-7.23zM453.38 212.04h7.23v2.50h-7.23zM453.38 216.97h7.23v2.50h-7.23zM453.38 234.25h7.23v2.50h-7.23zM453.38 239.19h7.23v2.50h-7.23zM453.38 249.06h7.23v2.50h-7.23zM460.56 216.97h7.23v2.50h-7.23zM460.56 236.72h7.23v2.50h-7.23zM467.74 239.19h7.23v2.50h-7.23zM467.74 244.13h7.23v2.50h-7.23zM467.74 249.06h7.23v2.50h-7.23zM474.92 236.72h7.23v2.50h-7.23zM474.92 249.06h7.23v2.50h-7.23zM482.09 207.10h7.23v2.50h-7.23zM482.09 231.78h7.23v2.50h-7.23zM482.09 241.66h7.23v2.50h-7.23zM489.27 209.57h7.23v2.50h-7.23zM489.27 224.38h7.23v2.50h-7.23zM489.27 239.19h7.23v4.97h-7.23zM496.45 212.04h7.23v4.97h-7.23zM503.62 234.25h7.23v2.50h-7.23zM503.62 239.19h7.23v4.97h-7.23zM503.62 246.59h7.23v7.44h-7.23z"/>
<path fill="#003d00" d="M381.62 207.10h7.23v2.50h-7.23zM381.62 216.97h7.23v2.50h-7.23zM381.62 226.85h7.23v4.97h-7.23zM388.79 249.06h7.23v2.50h-7.23zM395.97 212.04h7.23v2.50h-7.23zM403.15 221.91h7.23v2.50h-7.23zM403.15 231.78h7.23v2.50h-7.23zM417.50 207.10h7.23v2.50h-7.23zM417.50 236.72h7.23v2.50h-7.23zM417.50 249.06h7.23v2.50h-7.23zM424.68 207.10h7.23v2.50h-7.23zM424.68 216.97h7.23v2.50h-7.23zM424.68 231.78h7.23v2.50h-7.23zM424.68 246.59h7.23v2.50h-7.23zM424.68 251.53h7.23v2.50h-7.23zM431.85 209.57h7.23v2.50h-7.23zM439.03 209.57h7.23v4.97h-7.23zM439.03 221.91h7.23v2.50h-7.23zM439.03 239.19h7.23v2.50h-7.23zM446.21 209.57h7.23v4.97h-7.23zM446.21 219.44h7.23v2.50h-7.23zM446.21 224.38h7.23v2.50h-7.23zM446.21 229.32h7.23v2.50h-7.23zM446.21 236.72h7.23v2.50h-7.23zM446.21 241.66h7.23v2.50h-7.23zM453.38 251.53h7.23v2.50h-7.23zM460.56 214.51h7.23v2.50h-7.23zM460.56 231.78h7.23v2.50h-7.23zM467.74 214.51h7.23v2.50h-7.23zM467.74 219.44h7.23v4.97h-7.23zM467.74 231.78h7.23v2.50h-7.23zM474.92 207.10h7.23v4.97h-7.23zM474.92 234.25h7.23v2.50h-7.23zM474.92 239.19h7.23v2.50h-7.23zM474.92 251.53h7.23v2.50h-7.23zM482.09 212.04h7.23v2.50h-7.23zM482.09 221.91h7.23v2.50h-7.23zM489.27 212.04h7.23v2.50h-7.23zM496.45 216.97h7.23v4.97h-7.23zM503.62 212.04h7.23v7.44h-7.23zM503.62 224.38h7.23v2.50h-7.23zM503.62 236.72h7.23v2.50h-7.23z"/>
<path fill="#00bf00" d="M381.62 224.38h7.23v2.50h-7.23zM381.62 246.59h7.23v2.50h-7.23zM388.79 212.04h7.23v2.50h-7.23zM388.79 226.85h7.23v7.44h-7.23zM395.97 219.44h7.23v2.50h-7.23zM395.97 251.53h7.23v2.50h-7.23zM403.15 207.10h7.23v4.97h-7.23zM403.15 246.59h7.23v4.97h-7.23zM410.32 212.04h7.23v2.50h-7.23zM417.50 209.57h7.23v9.90h-7.23zM431.85 207.10h7.23v2.50h-7.23zM431.85 212.04h7.23v2.50h-7.23zM431.85 224.38h7.23v4.97h-7.23zM431.85 239.19h7.23v2.50h-7.23zM439.03 224.38h7.23v2.50h-7.23zM439.03 249.06h7.23v2.50h-7.23zM453.38 214.51h7.23v2.50h-7.23zM453.38 241.66h7.23v2.50h-7.23zM460.56 229.32h7.23v2.50h-7.23zM460.56 239.19h7.23v4.97h-7.23zM460.56 246.59h7.23v2.50h-7.23zM467.74 224.38h7.23v2.50h-7.23zM467.74 236.72h7.23v2.50h-7.23zM467.74 246.59h7.23v2.50h-7.23zM474.92 226.85h7.23v2.50h-7.23zM474.92 246.59h7.23v2.50h-7.23zM482.09 216.97h7.23v2.50h-7.23zM482.09 226.85h7.23v2.50h-7.23zM482.09 234.25h7.23v2.50h-7.23zM482.09 246.59h7.23v2.50h-7.23zM489.27 226.85h7.23v2.50h-7.23zM489.27 231.78h7.23v2.50h-7.23zM489.27 244.13h7.23v2.50h-7.23zM489.27 249.06h7.23v4.97h-7.23zM496.45 209.57h7.23v2.50h-7.23zM496.45 229.32h7.23v2.50h-7.23zM503.62 244.13h7.23v2.50h-7.23z"/>
</g>
<g stroke="#000" stroke-width="1.3" fill="none">
<line x1="276.4" y1="81.1" x2="323.6" y2="124.9"/>
<line x1="276.4" y1="103" x2="323.2" y2="175.7"/>
<line x1="276.5" y1="217.3" x2="323.2" y2="178"/>
<line x1="276.5" y1="231.1" x2="323.2" y2="203.6"/>
<line x1="276.5" y1="274.7" x2="323.2" y2="205"/>
<line x1="276.5" y1="293.4" x2="323.2" y2="254"/>
</g>
<path d="M327.60 120.90V110.90H334.85V120.90M331.23 110.90V108.40H342.10V120.90M349.35 120.90V105.50H356.60V120.90M336.66 108.40V103.40H352.98V105.50M344.82 103.40V102.30H363.85V120.90M354.33 102.30V96.10H371.10V120.90M362.72 96.10V93.40H378.35V120.90M385.60 120.90V92.00H392.85V120.90M400.10 120.90V98.20H407.35V120.90M403.73 98.20V86.90H414.60V120.90M429.10 120.90V89.50H436.35V120.90M421.85 120.90V85.00H432.73V89.50M409.16 86.90V84.60H427.29V85.00M389.23 92.00V82.60H418.23V84.60M443.60 120.90V91.10H450.85V120.90M403.73 82.60V79.50H447.23V91.10M465.35 120.90V80.50H472.60V120.90M458.10 120.90V72.60H468.98V80.50M487.10 120.90V84.60H494.35V120.90M479.85 120.90V80.50H490.73V84.60M463.54 72.60V70.80H485.29V80.50M501.60 120.90V77.40H508.85V120.90M474.41 70.80V65.10H505.23V77.40M425.48 79.50V56.90H489.82V65.10M370.53 93.40V39.20H457.65V56.90" fill="none" stroke="#000" stroke-width="0.9"/>
<path d="M326.50 30.9H330.50L326.50 34.3H330.50M333.76 30.9H337.76L333.76 34.3H337.76M341.03 30.9H345.03L341.03 34.3H345.03M348.30 30.9H352.30L348.30 34.3H352.30M355.56 30.9H359.56L355.56 34.3H359.56M362.82 30.9H366.82L362.82 34.3H366.82M370.09 30.9H374.09L370.09 34.3H374.09M377.36 30.9H381.36L377.36 34.3H381.36M384.52 31.2V32.6Q384.52 34.7 386.62 34.7Q388.72 34.7 388.72 32.6V31.2M388.62 27.3V30L386.02 27.6Q384.42 27.2 384.52 28.6Q384.62 29.7 385.42 29.9M391.78 31.2V32.6Q391.78 34.7 393.88 34.7Q395.99 34.7 395.99 32.6V31.2M395.88 27.3V30L393.28 27.6Q391.69 27.2 391.78 28.6Q391.88 29.7 392.69 29.9M399.05 31.2V32.6Q399.05 34.7 401.15 34.7Q403.25 34.7 403.25 32.6V31.2M403.15 27.3V30L400.55 27.6Q398.95 27.2 399.05 28.6Q399.15 29.7 399.95 29.9M406.31 31.2V32.6Q406.31 34.7 408.41 34.7Q410.51 34.7 410.51 32.6V31.2M410.41 27.3V30L407.81 27.6Q406.21 27.2 406.31 28.6Q406.41 29.7 407.21 29.9M413.58 31.2V32.6Q413.58 34.7 415.68 34.7Q417.78 34.7 417.78 32.6V31.2M417.68 27.3V30L415.08 27.6Q413.48 27.2 413.58 28.6Q413.68 29.7 414.48 29.9M420.84 31.2V32.6Q420.84 34.7 422.94 34.7Q425.05 34.7 425.05 32.6V31.2M424.94 27.3V30L422.34 27.6Q420.75 27.2 420.84 28.6Q420.94 29.7 421.75 29.9M428.11 31.2V32.6Q428.11 34.7 430.21 34.7Q432.31 34.7 432.31 32.6V31.2M432.21 27.3V30L429.61 27.6Q428.01 27.2 428.11 28.6Q428.21 29.7 429.01 29.9M435.38 31.2V32.6Q435.38 34.7 437.48 34.7Q439.58 34.7 439.58 32.6V31.2M439.48 27.3V30L436.88 27.6Q435.28 27.2 435.38 28.6Q435.48 29.7 436.28 29.9M442.64 31.2V32.6Q442.64 34.7 444.74 34.7Q446.84 34.7 446.84 32.6V31.2M446.74 27.3V30L444.14 27.6Q442.54 27.2 442.64 28.6Q442.74 29.7 443.54 29.9M449.90 31.2V32.6Q449.90 34.7 452.00 34.7Q454.11 34.7 454.11 32.6V31.2M454.00 27.3V30L451.40 27.6Q449.81 27.2 449.90 28.6Q450.00 29.7 450.81 29.9M457.17 31.2V32.6Q457.17 34.7 459.27 34.7Q461.37 34.7 461.37 32.6V31.2M461.27 27.3V30L458.67 27.6Q457.07 27.2 457.17 28.6Q457.27 29.7 458.07 29.9M464.43 31.2V32.6Q464.43 34.7 466.53 34.7Q468.63 34.7 468.63 32.6V31.2M468.53 28.7H464.53L465.33 29.8M471.70 31.2V32.6Q471.70 34.7 473.80 34.7Q475.90 34.7 475.90 32.6V31.2M475.80 28.7H471.80L472.60 29.8M478.96 31.2V32.6Q478.96 34.7 481.06 34.7Q483.17 34.7 483.17 32.6V31.2M483.06 28.7H479.06L479.87 29.8M486.23 31.2V32.6Q486.23 34.7 488.33 34.7Q490.43 34.7 490.43 32.6V31.2M490.33 28.7H486.33L487.13 29.8M493.50 31.2V32.6Q493.50 34.7 495.60 34.7Q497.70 34.7 497.70 32.6V31.2M497.60 28.7H493.60L494.40 29.8M500.76 31.2V32.6Q500.76 34.7 502.86 34.7Q504.96 34.7 504.96 32.6V31.2M504.86 28.7H500.86L501.66 29.8M508.02 31.2V32.6Q508.02 34.7 510.12 34.7Q512.23 34.7 512.23 32.6V31.2M512.12 28.7H508.12L508.93 29.8" fill="none" stroke="#1a1a1a" stroke-width="0.85"/>
<defs><filter id="bl" x="0" y="0" width="1" height="1"><feGaussianBlur stdDeviation="0.32"/></filter><clipPath id="cs"><rect x="248.3" y="37.8" width="26" height="408.6"/></clipPath></defs>
<g clip-path="url(#cs)"><g filter="url(#bl)">
<rect x="245.5" y="35" width="31.60" height="414" fill="#0a0a06"/>
<path stroke="#5c1207" stroke-width="1.02" fill="none" d="M248.5 38.5h2.0M259.3 38.5h1.0M263.3 38.5h1.0M266.2 38.5h1.0M258.3 39.5h1.0M260.3 39.5h2.0M272.1 39.5h2.0M259.3 40.5h2.0M262.3 40.5h1.0M272.1 40.5h1.0M250.5 41.5h1.0M255.4 41.5h1.0M255.4 42.5h1.0M259.3 42.5h2.0M264.3 42.5h1.0M268.2 42.5h1.0M273.1 42.5h1.0M250.5 43.5h1.0M273.1 43.5h1.0M259.3 44.5h1.0M264.3 44.5h1.0M266.2 44.5h1.0M269.2 44.5h2.0M273.1 44.5h1.0M260.3 45.5h1.0M263.3 45.5h1.0M265.2 45.5h1.0M270.2 45.5h1.0M263.3 46.5h1.0M268.2 46.5h1.0M270.2 46.5h1.0M258.3 47.5h1.0M268.2 47.5h1.0M272.1 47.5h1.0M256.4 48.5h1.0M272.1 48.5h1.0M261.3 49.5h1.0M264.3 49.5h1.0M270.2 49.5h1.0M263.3 50.5h3.0M270.2 50.5h1.0M272.1 50.5h2.0M253.4 51.5h1.0M256.4 51.5h2.0M262.3 51.5h1.0M270.2 51.5h1.0M273.1 51.5h1.0M261.3 52.5h1.0M264.3 52.5h1.0M267.2 52.5h1.0M257.4 53.5h1.0M261.3 53.5h1.0M266.2 53.5h1.0M258.3 54.5h1.0M264.3 54.5h1.0M269.2 54.5h1.0M248.5 55.5h1.0M257.4 55.5h1.0M262.3 55.5h2.0M248.5 56.5h1.0M260.3 56.5h1.0M268.2 56.5h1.0M263.3 57.5h2.0M270.2 57.5h2.0M257.4 58.5h1.0M262.3 58.5h3.9M257.4 59.5h1.0M262.3 59.5h1.0M265.2 60.5h1.0M259.3 61.5h1.0M261.3 61.5h1.0M266.2 61.5h1.0M269.2 61.5h2.0M260.3 62.5h1.0M264.3 62.5h1.0M266.2 62.5h1.0M270.2 62.5h2.0M264.3 63.5h1.0M266.2 63.5h3.9M271.1 63.5h3.0M257.4 64.5h1.0M269.2 64.5h1.0M264.3 65.5h1.0M257.4 66.5h1.0M263.3 66.5h1.0M271.1 66.5h1.0M251.5 67.5h1.0M267.2 67.5h1.0M258.3 68.5h2.0M270.2 68.5h1.0M258.3 69.5h1.0M264.3 69.5h1.0M269.2 69.5h1.0M272.1 69.5h1.0M258.3 70.5h1.0M269.2 70.5h1.0M271.1 70.5h2.0M262.3 71.5h2.0M257.4 72.5h3.9M262.3 72.5h2.0M266.2 72.5h1.0M268.2 72.5h1.0M272.1 72.5h1.0M257.4 73.5h2.0M266.2 73.5h1.0M272.1 73.5h1.0M263.3 74.5h3.0M264.3 75.5h1.0M272.1 75.5h1.0M260.3 76.5h1.0M263.3 76.5h1.0M257.4 77.5h1.0M265.2 77.5h1.0M270.2 77.5h1.0M256.4 78.5h1.0M263.3 78.5h1.0M263.3 79.5h1.0M263.3 80.5h1.0M256.4 81.5h1.0M256.4 82.5h1.0M263.3 83.5h1.0M256.4 86.5h1.0M273.1 86.5h1.0M256.4 87.5h1.0M258.3 87.5h1.0M260.3 87.5h2.0M264.3 87.5h1.0M273.1 87.5h1.0M256.4 88.5h1.0M260.3 88.5h1.0M262.3 88.5h3.0M266.2 88.5h1.0M272.1 88.5h2.0M256.4 89.5h2.0M266.2 89.5h1.0M266.2 92.5h1.0M267.2 93.5h1.0M256.4 94.5h1.0M263.3 94.5h1.0M266.2 95.5h1.0M256.4 96.5h2.0M263.3 96.5h1.0M265.2 96.5h1.0M268.2 97.5h2.0M272.1 97.5h1.0M265.2 98.5h1.0M262.3 99.5h2.0M265.2 99.5h1.0M261.3 100.5h1.0M265.2 100.5h1.0M270.2 100.5h1.0M256.4 101.5h1.0M260.3 101.5h1.0M262.3 101.5h1.0M264.3 101.5h1.0M266.2 101.5h1.0M256.4 102.5h2.0M260.3 102.5h2.0M271.1 102.5h1.0M259.3 103.5h1.0M267.2 103.5h1.0M269.2 103.5h1.0M259.3 104.5h1.0M262.3 104.5h1.0M266.2 104.5h1.0M273.1 104.5h1.0M259.3 105.5h1.0M273.1 105.5h1.0M258.3 106.5h1.0M261.3 106.5h1.0M266.2 106.5h2.0M271.1 106.5h2.0M258.3 107.5h3.0M264.3 107.5h2.0M270.2 107.5h1.0M272.1 107.5h1.0M260.3 108.5h2.0M259.3 109.5h1.0M264.3 109.5h1.0M267.2 109.5h2.0M265.2 110.5h1.0M268.2 110.5h1.0M256.4 111.5h1.0M263.3 111.5h1.0M271.1 111.5h1.0M273.1 111.5h1.0M256.4 112.5h2.0M260.3 112.5h1.0M262.3 112.5h1.0M264.3 112.5h1.0M271.1 112.5h1.0M273.1 112.5h1.0M258.3 113.5h2.0M261.3 113.5h1.0M266.2 113.5h1.0M272.1 113.5h1.0M270.2 114.5h1.0M257.4 115.5h2.0M269.2 115.5h1.0M269.2 116.5h1.0M256.4 117.5h1.0M263.3 117.5h3.0M268.2 117.5h1.0M271.1 117.5h1.0M256.4 118.5h1.0M270.2 118.5h1.0M273.1 118.5h1.0M260.3 119.5h2.0M266.2 119.5h1.0M269.2 119.5h1.0M272.1 119.5h2.0M258.3 120.5h1.0M264.3 120.5h1.0M267.2 120.5h1.0M273.1 120.5h1.0M261.3 121.5h2.0M264.3 121.5h2.0M270.2 121.5h1.0M272.1 121.5h2.0M257.4 122.5h1.0M259.3 122.5h2.0M263.3 122.5h1.0M269.2 122.5h1.0M256.4 123.5h1.0M258.3 123.5h1.0M261.3 123.5h1.0M269.2 123.5h1.0M256.4 124.5h3.0M262.3 124.5h1.0M268.2 124.5h1.0M257.4 125.5h1.0M261.3 125.5h1.0M268.2 125.5h1.0M272.1 125.5h1.0M256.4 126.5h2.0M260.3 126.5h1.0M263.3 126.5h2.0M267.2 126.5h2.0M270.2 126.5h2.0M273.1 126.5h1.0M257.4 127.5h1.0M259.3 128.5h2.0M266.2 129.5h1.0M268.2 129.5h1.0M263.3 130.5h1.0M265.2 130.5h1.0M267.2 130.5h3.0M263.3 131.5h1.0M266.2 131.5h1.0M269.2 131.5h3.0M261.3 132.5h1.0M263.3 132.5h1.0M265.2 132.5h1.0M271.1 132.5h1.0M256.4 133.5h4.9M262.3 133.5h1.0M273.1 133.5h1.0M256.4 134.5h2.0M259.3 134.5h2.0M262.3 134.5h2.0M258.3 135.5h2.0M266.2 135.5h2.0M270.2 135.5h2.0M256.4 136.5h1.0M265.2 136.5h1.0M271.1 136.5h2.0M262.3 137.5h1.0M269.2 137.5h1.0M273.1 137.5h1.0M263.3 138.5h1.0M266.2 138.5h1.0M273.1 138.5h1.0M256.4 139.5h1.0M261.3 139.5h1.0M266.2 139.5h1.0M272.1 139.5h1.0M257.4 140.5h2.0M261.3 140.5h1.0M264.3 140.5h1.0M266.2 140.5h2.0M271.1 140.5h1.0M273.1 140.5h1.0M266.2 141.5h1.0M273.1 141.5h1.0M270.2 142.5h1.0M259.3 143.5h2.0M262.3 143.5h1.0M269.2 143.5h1.0M248.5 144.5h1.0M258.3 144.5h1.0M272.1 144.5h1.0M251.5 145.5h1.0M258.3 145.5h1.0M260.3 145.5h2.0M265.2 145.5h2.0M249.5 146.5h1.0M260.3 146.5h2.0M263.3 146.5h2.0M250.5 147.5h1.0M263.3 147.5h1.0M257.4 148.5h1.0M259.3 148.5h1.0M264.3 148.5h1.0M267.2 148.5h1.0M273.1 148.5h1.0M257.4 149.5h1.0M260.3 149.5h2.0M272.1 150.5h1.0M267.2 151.5h1.0M270.2 151.5h1.0M256.4 152.5h1.0M265.2 152.5h1.0M259.3 153.5h1.0M265.2 153.5h1.0M267.2 153.5h2.0M269.2 154.5h2.0M259.3 156.5h1.0M248.5 157.5h1.0M253.4 158.5h1.0M263.3 158.5h2.0M269.2 158.5h1.0M261.3 159.5h3.0M270.2 159.5h1.0M263.3 161.5h1.0M268.2 161.5h1.0M272.1 161.5h1.0M258.3 162.5h1.0M266.2 162.5h2.0M273.1 162.5h1.0M257.4 163.5h1.0M268.2 163.5h1.0M271.1 163.5h1.0M266.2 164.5h1.0M268.2 164.5h1.0M252.4 165.5h1.0M258.3 166.5h1.0M261.3 166.5h1.0M273.1 167.5h1.0M257.4 168.5h1.0M261.3 168.5h1.0M257.4 169.5h3.0M262.3 169.5h1.0M257.4 170.5h1.0M260.3 170.5h2.0M267.2 170.5h1.0M250.5 171.5h1.0M261.3 171.5h1.0M267.2 171.5h1.0M249.5 172.5h1.0M256.4 172.5h1.0M262.3 172.5h1.0M254.4 173.5h1.0M259.3 173.5h1.0M268.2 173.5h1.0M257.4 174.5h2.0M265.2 174.5h1.0M257.4 175.5h1.0M266.2 175.5h1.0M273.1 175.5h1.0M258.3 176.5h3.0M267.2 176.5h1.0M273.1 176.5h1.0M250.5 177.5h1.0M256.4 177.5h1.0M259.3 177.5h1.0M266.2 178.5h1.0M257.4 179.5h1.0M260.3 179.5h1.0M257.4 180.5h1.0M260.3 180.5h1.0M264.3 180.5h1.0M259.3 181.5h1.0M267.2 181.5h1.0M270.2 181.5h1.0M273.1 181.5h1.0M254.4 182.5h1.0M263.3 182.5h1.0M266.2 182.5h1.0M249.5 183.5h1.0M260.3 183.5h2.0M254.4 184.5h1.0M256.4 184.5h1.0M267.2 184.5h1.0M270.2 184.5h2.0M253.4 185.5h2.0M273.1 185.5h1.0M261.3 186.5h1.0M265.2 187.5h1.0M268.2 188.5h2.0M255.4 189.5h2.0M259.3 189.5h1.0M253.4 190.5h1.0M273.1 190.5h1.0M273.1 191.5h1.0M251.5 192.5h1.0M253.4 192.5h1.0M267.2 192.5h1.0M270.2 192.5h1.0M250.5 193.5h1.0M256.4 194.5h1.0M261.3 194.5h1.0M268.2 194.5h1.0M253.4 195.5h2.0M259.3 195.5h2.0M267.2 195.5h1.0M271.1 195.5h1.0M251.5 196.5h1.0M254.4 196.5h1.0M271.1 196.5h2.0M257.4 197.5h1.0M271.1 197.5h1.0M250.5 198.5h1.0M252.4 198.5h1.0M260.3 198.5h2.0M257.4 199.5h1.0M259.3 199.5h1.0M252.4 200.5h1.0M262.3 200.5h1.0M272.1 200.5h1.0M252.4 201.5h1.0M254.4 201.5h1.0M256.4 201.5h1.0M269.2 201.5h1.0M248.5 202.5h1.0M258.3 202.5h2.0M262.3 202.5h1.0M256.4 203.5h2.0M248.5 204.5h1.0M256.4 204.5h1.0M256.4 205.5h2.0M259.3 205.5h1.0M273.1 205.5h1.0M257.4 206.5h1.0M248.5 207.5h1.0M257.4 207.5h1.0M262.3 207.5h1.0M271.1 207.5h1.0M251.5 208.5h3.0M256.4 208.5h1.0M258.3 208.5h1.0M262.3 208.5h1.0M273.1 208.5h1.0M250.5 209.5h1.0M256.4 209.5h1.0M262.3 209.5h1.0M250.5 210.5h1.0M259.3 210.5h1.0M273.1 210.5h1.0M250.5 211.5h1.0M261.3 211.5h1.0M269.2 211.5h2.0M248.5 212.5h2.0M253.4 212.5h1.0M256.4 212.5h1.0M263.3 212.5h1.0M270.2 212.5h1.0M248.5 213.5h1.0M251.5 213.5h1.0M253.4 213.5h1.0M256.4 213.5h1.0M251.5 214.5h1.0M253.4 214.5h2.0M264.3 214.5h1.0M254.4 215.5h1.0M256.4 215.5h1.0M256.4 216.5h1.0M269.2 216.5h1.0M249.5 217.5h2.0M252.4 217.5h3.9M268.2 217.5h2.0M273.1 217.5h1.0M258.3 218.5h1.0M261.3 218.5h1.0M268.2 218.5h2.0M257.4 219.5h1.0M263.3 219.5h1.0M263.3 220.5h1.0M267.2 220.5h1.0M269.2 220.5h3.0M273.1 220.5h1.0M250.5 221.5h2.0M264.3 221.5h1.0M269.2 221.5h1.0M271.1 221.5h1.0M264.3 222.5h1.0M268.2 222.5h3.0M248.5 223.5h1.0M252.4 223.5h1.0M264.3 223.5h1.0M267.2 223.5h2.0M272.1 223.5h1.0M248.5 224.5h1.0M252.4 224.5h1.0M251.5 225.5h2.0M268.2 225.5h1.0M270.2 225.5h2.0M251.5 226.5h2.0M254.4 226.5h1.0M262.3 226.5h1.0M269.2 226.5h3.0M254.4 227.5h1.0M266.2 227.5h1.0M271.1 227.5h1.0M273.1 227.5h1.0M250.5 228.5h2.0M267.2 228.5h1.0M249.5 229.5h1.0M252.4 229.5h1.0M257.4 229.5h1.0M266.2 229.5h1.0M269.2 229.5h1.0M272.1 229.5h1.0M253.4 230.5h1.0M256.4 230.5h1.0M258.3 230.5h1.0M260.3 230.5h1.0M267.2 230.5h1.0M271.1 230.5h1.0M273.1 230.5h1.0M264.3 231.5h2.0M267.2 231.5h2.0M270.2 231.5h3.0M271.1 232.5h3.0M248.5 233.5h1.0M270.2 233.5h1.0M248.5 234.5h1.0M255.4 234.5h1.0M268.2 234.5h1.0M270.2 234.5h1.0M273.1 234.5h1.0M269.2 235.5h1.0M251.5 237.5h1.0M253.4 237.5h1.0M272.1 237.5h1.0M249.5 238.5h1.0M251.5 238.5h1.0M267.2 238.5h1.0M269.2 238.5h1.0M251.5 239.5h1.0M272.1 239.5h2.0M253.4 240.5h1.0M270.2 240.5h1.0M272.1 241.5h1.0M270.2 242.5h1.0M273.1 242.5h1.0M255.4 243.5h1.0M251.5 244.5h1.0M253.4 244.5h1.0M249.5 245.5h3.0M253.4 245.5h1.0M270.2 245.5h2.0M250.5 246.5h1.0M253.4 246.5h3.0M269.2 246.5h3.0M273.1 246.5h1.0M253.4 247.5h1.0M267.2 247.5h2.0M271.1 247.5h1.0M273.1 247.5h1.0M267.2 248.5h2.0M272.1 248.5h1.0M255.4 249.5h1.0M269.2 249.5h2.0M273.1 249.5h1.0M268.2 250.5h2.0M250.5 251.5h1.0M253.4 251.5h1.0M269.2 251.5h1.0M249.5 252.5h2.0M253.4 252.5h2.0M268.2 252.5h1.0M250.5 253.5h1.0M254.4 253.5h1.0M249.5 254.5h1.0M251.5 254.5h1.0M271.1 254.5h1.0M248.5 255.5h3.9M255.4 255.5h1.0M249.5 256.5h1.0M251.5 256.5h1.0M269.2 257.5h1.0M271.1 257.5h1.0M250.5 258.5h1.0M254.4 258.5h1.0M271.1 258.5h1.0M249.5 259.5h1.0M249.5 260.5h1.0M255.4 260.5h1.0M268.2 260.5h1.0M249.5 261.5h1.0M268.2 261.5h1.0M272.1 261.5h1.0M270.2 262.5h1.0M253.4 263.5h1.0M249.5 264.5h1.0M269.2 264.5h2.0M249.5 265.5h2.0M253.4 265.5h1.0M268.2 265.5h1.0M271.1 265.5h2.0M255.4 266.5h1.0M270.2 266.5h1.0M249.5 267.5h1.0M255.4 267.5h1.0M269.2 267.5h1.0M251.5 268.5h3.0M267.2 268.5h1.0M250.5 269.5h1.0M252.4 269.5h1.0M269.2 269.5h1.0M267.2 270.5h1.0M271.1 270.5h2.0M251.5 271.5h1.0M254.4 272.5h1.0M270.2 272.5h1.0M249.5 273.5h1.0M252.4 273.5h1.0M267.2 273.5h1.0M248.5 274.5h2.0M252.4 274.5h1.0M255.4 274.5h1.0M267.2 274.5h1.0M255.4 275.5h1.0M255.4 276.5h1.0M267.2 276.5h1.0M249.5 277.5h1.0M259.3 277.5h2.0M248.5 278.5h1.0M254.4 278.5h1.0M249.5 280.5h1.0M252.4 280.5h1.0M267.2 280.5h1.0M254.4 281.5h1.0M251.5 282.5h1.0M253.4 283.5h1.0M262.3 283.5h1.0M273.1 283.5h1.0M249.5 284.5h1.0M253.4 284.5h1.0M253.4 285.5h1.0M250.5 286.5h1.0M253.4 286.5h1.0M251.5 287.5h3.9M250.5 288.5h1.0M252.4 288.5h1.0M261.3 288.5h1.0M248.5 289.5h3.9M253.4 289.5h3.0M261.3 289.5h1.0M248.5 290.5h1.0M268.2 290.5h1.0M249.5 291.5h1.0M253.4 291.5h1.0M260.3 291.5h1.0M248.5 292.5h2.0M249.5 293.5h2.0M255.4 293.5h1.0M250.5 294.5h1.0M255.4 294.5h1.0M254.4 295.5h1.0M271.1 295.5h1.0M249.5 296.5h1.0M251.5 296.5h1.0M255.4 296.5h1.0M249.5 297.5h1.0M252.4 298.5h2.0M273.1 298.5h1.0M250.5 299.5h1.0M252.4 299.5h1.0M254.4 299.5h2.0M273.1 299.5h1.0M252.4 300.5h1.0M254.4 300.5h1.0M250.5 302.5h2.0M255.4 302.5h1.0M251.5 303.5h1.0M273.1 303.5h1.0M248.5 304.5h1.0M249.5 305.5h1.0M255.4 305.5h1.0M249.5 306.5h2.0M251.5 307.5h1.0M268.2 307.5h1.0M267.2 308.5h1.0M253.4 309.5h2.0M267.2 309.5h1.0M256.4 310.5h1.0M250.5 311.5h1.0M264.3 311.5h1.0M269.2 312.5h1.0M268.2 313.5h1.0M272.1 313.5h1.0M249.5 314.5h1.0M253.4 314.5h1.0M263.3 314.5h1.0M270.2 314.5h1.0M267.2 315.5h1.0M269.2 316.5h1.0M250.5 317.5h1.0M253.4 317.5h1.0M255.4 317.5h1.0M248.5 318.5h3.0M255.4 318.5h1.0M265.2 319.5h1.0M256.4 321.5h1.0M249.5 322.5h1.0M253.4 322.5h1.0M256.4 322.5h1.0M248.5 323.5h1.0M252.4 323.5h2.0M272.1 323.5h1.0M249.5 324.5h1.0M251.5 324.5h2.0M272.1 324.5h1.0M252.4 325.5h1.0M268.2 325.5h1.0M252.4 326.5h1.0M270.2 326.5h1.0M269.2 327.5h1.0M251.5 328.5h1.0M254.4 328.5h1.0M260.3 328.5h1.0M254.4 329.5h1.0M261.3 331.5h3.9M273.1 331.5h1.0M253.4 332.5h1.0M263.3 332.5h1.0M251.5 333.5h2.0M255.4 333.5h1.0M254.4 334.5h2.0M273.1 334.5h1.0M248.5 335.5h1.0M251.5 335.5h1.0M255.4 335.5h1.0M269.2 335.5h1.0M253.4 336.5h2.0M268.2 336.5h1.0M270.2 336.5h1.0M250.5 337.5h1.0M259.3 337.5h1.0M270.2 337.5h1.0M250.5 339.5h1.0M259.3 339.5h1.0M272.1 339.5h1.0M249.5 340.5h1.0M251.5 340.5h1.0M254.4 340.5h2.0M250.5 341.5h1.0M254.4 341.5h1.0M264.3 341.5h1.0M254.4 342.5h1.0M269.2 342.5h1.0M272.1 342.5h1.0M254.4 343.5h1.0M272.1 343.5h2.0M256.4 344.5h1.0M258.3 344.5h1.0M268.2 344.5h1.0M272.1 344.5h2.0M251.5 345.5h1.0M253.4 345.5h1.0M258.3 345.5h1.0M271.1 345.5h1.0M249.5 346.5h1.0M255.4 346.5h1.0M250.5 347.5h1.0M252.4 347.5h2.0M255.4 347.5h1.0M252.4 348.5h1.0M254.4 348.5h1.0M249.5 349.5h1.0M249.5 350.5h2.0M256.4 351.5h1.0M251.5 352.5h1.0M253.4 352.5h1.0M255.4 352.5h1.0M248.5 353.5h1.0M255.4 353.5h1.0M261.3 353.5h1.0M249.5 355.5h1.0M252.4 355.5h1.0M264.3 355.5h2.0M256.4 356.5h1.0M263.3 356.5h1.0M272.1 356.5h1.0M249.5 357.5h2.0M262.3 357.5h1.0M268.2 357.5h2.0M271.1 357.5h1.0M249.5 358.5h1.0M265.2 358.5h1.0M255.4 359.5h1.0M266.2 359.5h1.0M252.4 360.5h1.0M263.3 360.5h1.0M255.4 361.5h1.0M267.2 361.5h1.0M273.1 361.5h1.0M250.5 362.5h1.0M250.5 363.5h1.0M262.3 363.5h1.0M265.2 363.5h1.0M250.5 364.5h1.0M264.3 364.5h2.0M250.5 365.5h1.0M248.5 366.5h2.0M252.4 366.5h2.0M263.3 366.5h2.0M268.2 366.5h1.0M248.5 367.5h1.0M251.5 367.5h1.0M254.4 367.5h1.0M263.3 367.5h1.0M267.2 367.5h1.0M265.2 368.5h1.0M268.2 368.5h1.0M252.4 369.5h1.0M263.3 369.5h1.0M268.2 371.5h1.0M252.4 372.5h1.0M265.2 372.5h1.0M268.2 372.5h1.0M273.1 372.5h1.0M248.5 373.5h2.0M261.3 373.5h2.0M271.1 373.5h1.0M252.4 374.5h1.0M254.4 374.5h1.0M263.3 374.5h1.0M253.4 375.5h1.0M263.3 375.5h1.0M269.2 375.5h1.0M249.5 376.5h1.0M253.4 376.5h1.0M264.3 376.5h1.0M255.4 377.5h1.0M263.3 377.5h1.0M268.2 377.5h1.0M270.2 377.5h1.0M253.4 378.5h1.0M265.2 378.5h1.0M270.2 378.5h3.0M254.4 379.5h1.0M262.3 379.5h1.0M248.5 380.5h1.0M267.2 380.5h1.0M273.1 380.5h1.0M248.5 381.5h2.0M258.3 381.5h1.0M262.3 381.5h1.0M266.2 381.5h1.0M269.2 381.5h1.0M272.1 381.5h1.0M248.5 382.5h2.0M254.4 382.5h1.0M258.3 382.5h1.0M269.2 382.5h1.0M254.4 383.5h2.0M251.5 384.5h1.0M269.2 384.5h1.0M253.4 385.5h1.0M255.4 385.5h1.0M266.2 385.5h3.0M251.5 386.5h1.0M269.2 386.5h1.0M272.1 386.5h1.0M252.4 387.5h3.9M273.1 388.5h1.0M249.5 389.5h1.0M251.5 389.5h2.0M268.2 390.5h2.0M248.5 391.5h1.0M267.2 391.5h1.0M271.1 391.5h2.0M249.5 392.5h1.0M257.4 392.5h1.0M269.2 392.5h1.0M273.1 392.5h1.0M264.3 393.5h1.0M266.2 393.5h1.0M248.5 394.5h1.0M266.2 394.5h3.0M252.4 395.5h2.0M267.2 396.5h2.0M248.5 397.5h1.0M251.5 397.5h1.0M254.4 397.5h2.0M260.3 397.5h1.0M267.2 397.5h1.0M272.1 397.5h1.0M251.5 398.5h1.0M253.4 398.5h1.0M269.2 399.5h1.0M271.1 399.5h1.0M250.5 400.5h3.0M270.2 400.5h1.0M248.5 401.5h1.0M252.4 401.5h1.0M255.4 401.5h2.0M269.2 401.5h1.0M271.1 401.5h3.0M256.4 402.5h1.0M271.1 402.5h1.0M249.5 403.5h1.0M252.4 403.5h1.0M264.3 403.5h1.0M273.1 403.5h1.0M251.5 404.5h1.0M264.3 404.5h1.0M267.2 404.5h2.0M272.1 404.5h2.0M251.5 405.5h1.0M253.4 405.5h1.0M255.4 405.5h1.0M269.2 405.5h1.0M272.1 405.5h1.0M252.4 406.5h1.0M261.3 406.5h1.0M270.2 406.5h1.0M255.4 407.5h1.0M260.3 407.5h1.0M265.2 407.5h1.0M269.2 407.5h1.0M265.2 408.5h1.0M273.1 409.5h1.0M266.2 410.5h1.0M271.1 410.5h2.0M248.5 411.5h1.0M256.4 411.5h1.0M266.2 411.5h1.0M252.4 412.5h1.0M254.4 413.5h1.0M264.3 414.5h1.0M268.2 414.5h1.0M272.1 415.5h1.0M269.2 416.5h1.0M271.1 416.5h1.0M251.5 417.5h1.0M260.3 417.5h2.0M272.1 417.5h2.0M248.5 418.5h1.0M272.1 418.5h1.0M248.5 419.5h1.0M252.4 419.5h1.0M254.4 419.5h1.0M272.1 419.5h1.0M273.1 420.5h1.0M254.4 421.5h1.0M264.3 421.5h1.0M273.1 421.5h1.0M264.3 422.5h1.0M267.2 422.5h1.0M269.2 422.5h1.0M249.5 423.5h1.0M250.5 424.5h1.0M254.4 424.5h1.0M273.1 425.5h1.0M270.2 426.5h2.0M273.1 426.5h1.0M255.4 427.5h1.0M260.3 427.5h1.0M269.2 427.5h1.0M264.3 428.5h1.0M270.2 428.5h1.0M272.1 428.5h1.0M252.4 429.5h1.0M260.3 429.5h1.0M266.2 429.5h1.0M255.4 430.5h1.0M257.4 430.5h1.0M260.3 430.5h1.0M265.2 430.5h1.0M254.4 431.5h1.0M265.2 431.5h1.0M271.1 431.5h1.0M268.2 432.5h1.0M250.5 433.5h1.0M262.3 433.5h1.0M266.2 433.5h1.0M254.4 434.5h1.0M249.5 435.5h2.0M253.4 435.5h2.0M256.4 435.5h1.0M268.2 435.5h1.0M250.5 437.5h2.0M270.2 437.5h1.0M249.5 438.5h1.0M251.5 438.5h1.0M273.1 438.5h1.0M273.1 439.5h1.0M267.2 440.5h1.0M271.1 440.5h1.0M269.2 441.5h2.0M262.3 442.5h1.0M268.2 442.5h1.0M270.2 442.5h1.0M273.1 442.5h1.0M254.4 443.5h1.0M267.2 443.5h1.0M269.2 443.5h3.0M253.4 444.5h1.0M264.3 444.5h1.0M248.5 445.5h1.0"/>
<path stroke="#164e16" stroke-width="1.02" fill="none" d="M251.5 38.5h2.0M256.4 38.5h1.0M268.2 38.5h1.0M251.5 39.5h1.0M253.4 40.5h1.0M255.4 40.5h1.0M269.2 40.5h1.0M270.2 42.5h1.0M254.4 44.5h1.0M251.5 45.5h1.0M272.1 45.5h1.0M249.5 46.5h1.0M252.4 46.5h1.0M259.3 46.5h1.0M248.5 47.5h1.0M252.4 47.5h1.0M270.2 47.5h1.0M273.1 47.5h1.0M248.5 48.5h1.0M250.5 48.5h1.0M248.5 49.5h1.0M250.5 49.5h1.0M254.4 49.5h1.0M251.5 50.5h2.0M250.5 51.5h1.0M268.2 51.5h1.0M272.1 52.5h1.0M249.5 55.5h1.0M251.5 55.5h1.0M251.5 56.5h1.0M255.4 56.5h1.0M254.4 57.5h1.0M267.2 57.5h2.0M273.1 57.5h1.0M253.4 58.5h1.0M267.2 58.5h2.0M273.1 58.5h1.0M266.2 59.5h1.0M248.5 60.5h1.0M253.4 60.5h3.9M270.2 60.5h1.0M248.5 61.5h1.0M252.4 61.5h1.0M273.1 61.5h1.0M248.5 62.5h1.0M252.4 62.5h1.0M255.4 62.5h1.0M273.1 62.5h1.0M248.5 63.5h1.0M254.4 63.5h1.0M251.5 64.5h1.0M253.4 64.5h3.0M249.5 65.5h1.0M253.4 65.5h3.0M250.5 66.5h1.0M252.4 66.5h2.0M266.2 66.5h2.0M248.5 67.5h1.0M255.4 67.5h1.0M268.2 67.5h1.0M251.5 68.5h1.0M248.5 69.5h1.0M249.5 70.5h2.0M252.4 70.5h2.0M267.2 70.5h1.0M250.5 71.5h1.0M255.4 71.5h1.0M268.2 71.5h1.0M251.5 72.5h1.0M273.1 72.5h1.0M267.2 73.5h2.0M256.4 74.5h1.0M269.2 74.5h1.0M268.2 75.5h1.0M251.5 76.5h3.0M271.1 76.5h1.0M248.5 77.5h1.0M249.5 78.5h1.0M270.2 78.5h1.0M268.2 79.5h1.0M268.2 80.5h1.0M270.2 80.5h1.0M272.1 80.5h2.0M269.2 82.5h1.0M268.2 83.5h1.0M269.2 84.5h1.0M271.1 84.5h1.0M267.2 85.5h1.0M269.2 85.5h1.0M271.1 86.5h1.0M252.4 87.5h1.0M253.4 88.5h1.0M255.4 88.5h1.0M248.5 89.5h1.0M270.2 89.5h1.0M272.1 91.5h1.0M273.1 93.5h1.0M272.1 94.5h1.0M270.2 95.5h2.0M273.1 95.5h1.0M271.1 96.5h1.0M252.4 97.5h1.0M272.1 99.5h1.0M271.1 100.5h1.0M273.1 100.5h1.0M249.5 101.5h1.0M248.5 102.5h2.0M254.4 102.5h1.0M272.1 102.5h1.0M249.5 103.5h1.0M254.4 103.5h1.0M268.2 103.5h1.0M255.4 104.5h1.0M252.4 105.5h1.0M254.4 105.5h1.0M251.5 107.5h1.0M253.4 107.5h1.0M255.4 107.5h1.0M273.1 107.5h1.0M248.5 108.5h1.0M255.4 108.5h1.0M266.2 108.5h1.0M254.4 110.5h1.0M273.1 110.5h1.0M250.5 111.5h2.0M253.4 111.5h1.0M252.4 112.5h1.0M250.5 113.5h3.0M256.4 113.5h1.0M248.5 114.5h1.0M250.5 114.5h1.0M253.4 114.5h1.0M256.4 114.5h1.0M248.5 115.5h1.0M253.4 116.5h1.0M269.2 118.5h1.0M249.5 119.5h1.0M252.4 119.5h1.0M254.4 119.5h2.0M268.2 120.5h1.0M250.5 121.5h1.0M250.5 122.5h1.0M253.4 122.5h1.0M255.4 122.5h1.0M264.3 122.5h1.0M267.2 122.5h1.0M254.4 123.5h2.0M266.2 123.5h2.0M249.5 124.5h2.0M253.4 124.5h1.0M263.3 124.5h2.0M270.2 124.5h1.0M251.5 125.5h1.0M269.2 125.5h1.0M248.5 127.5h3.0M254.4 127.5h1.0M249.5 128.5h1.0M251.5 128.5h2.0M264.3 128.5h2.0M265.2 129.5h1.0M271.1 130.5h1.0M253.4 131.5h1.0M253.4 132.5h1.0M248.5 133.5h1.0M251.5 133.5h1.0M253.4 133.5h3.0M249.5 134.5h2.0M253.4 134.5h1.0M255.4 134.5h1.0M248.5 136.5h1.0M253.4 136.5h1.0M254.4 137.5h1.0M249.5 138.5h1.0M251.5 138.5h1.0M255.4 138.5h1.0M248.5 139.5h1.0M250.5 139.5h1.0M253.4 139.5h1.0M248.5 140.5h2.0M252.4 140.5h3.0M248.5 141.5h2.0M253.4 141.5h1.0M255.4 141.5h1.0M263.3 141.5h1.0M268.2 141.5h2.0M268.2 142.5h1.0M254.4 143.5h1.0M261.3 143.5h1.0M263.3 143.5h1.0M271.1 143.5h1.0M254.4 144.5h1.0M263.3 144.5h1.0M273.1 145.5h1.0M255.4 146.5h1.0M258.3 146.5h1.0M251.5 148.5h1.0M254.4 148.5h2.0M250.5 149.5h1.0M259.3 149.5h1.0M250.5 150.5h1.0M254.4 150.5h1.0M260.3 150.5h1.0M268.2 150.5h1.0M248.5 151.5h1.0M250.5 151.5h1.0M260.3 151.5h1.0M264.3 151.5h2.0M273.1 151.5h1.0M249.5 152.5h2.0M254.4 152.5h2.0M262.3 152.5h1.0M249.5 153.5h1.0M271.1 153.5h2.0M249.5 154.5h1.0M272.1 154.5h1.0M249.5 155.5h1.0M252.4 155.5h1.0M257.4 155.5h1.0M263.3 155.5h1.0M266.2 155.5h1.0M249.5 156.5h2.0M266.2 156.5h1.0M253.4 157.5h1.0M256.4 157.5h1.0M266.2 157.5h1.0M249.5 158.5h1.0M255.4 158.5h1.0M254.4 159.5h1.0M264.3 159.5h1.0M267.2 159.5h1.0M248.5 160.5h1.0M256.4 160.5h1.0M264.3 160.5h1.0M266.2 160.5h1.0M249.5 161.5h1.0M253.4 161.5h1.0M248.5 162.5h1.0M269.2 162.5h1.0M251.5 164.5h2.0M273.1 164.5h1.0M248.5 165.5h1.0M270.2 165.5h2.0M248.5 166.5h1.0M250.5 166.5h1.0M256.4 166.5h1.0M259.3 166.5h1.0M269.2 166.5h3.0M259.3 167.5h1.0M264.3 167.5h1.0M269.2 167.5h1.0M248.5 168.5h1.0M251.5 168.5h1.0M253.4 168.5h2.0M263.3 169.5h1.0M268.2 169.5h1.0M271.1 169.5h1.0M248.5 170.5h2.0M253.4 170.5h2.0M265.2 170.5h2.0M270.2 170.5h1.0M252.4 171.5h2.0M254.4 172.5h1.0M260.3 172.5h1.0M265.2 172.5h1.0M248.5 173.5h1.0M250.5 173.5h1.0M252.4 173.5h1.0M260.3 173.5h1.0M270.2 173.5h1.0M252.4 174.5h1.0M255.4 174.5h1.0M270.2 174.5h1.0M249.5 175.5h1.0M253.4 175.5h1.0M264.3 175.5h1.0M268.2 175.5h1.0M271.1 175.5h1.0M253.4 177.5h1.0M270.2 177.5h1.0M254.4 178.5h1.0M251.5 179.5h1.0M258.3 179.5h1.0M266.2 179.5h1.0M269.2 179.5h1.0M265.2 180.5h1.0M273.1 180.5h1.0M255.4 181.5h1.0M257.4 181.5h1.0M261.3 181.5h1.0M266.2 181.5h1.0M269.2 181.5h1.0M250.5 182.5h2.0M265.2 182.5h1.0M251.5 183.5h1.0M254.4 183.5h1.0M263.3 183.5h1.0M258.3 185.5h1.0M262.3 185.5h1.0M250.5 186.5h1.0M256.4 186.5h1.0M254.4 187.5h1.0M250.5 188.5h1.0M249.5 189.5h3.0M265.2 189.5h1.0M252.4 190.5h1.0M262.3 190.5h1.0M272.1 190.5h1.0M270.2 191.5h1.0M254.4 192.5h1.0M254.4 193.5h1.0M249.5 194.5h1.0M254.4 194.5h1.0M265.2 194.5h2.0M272.1 194.5h1.0M250.5 195.5h1.0M262.3 195.5h1.0M265.2 195.5h1.0M249.5 196.5h1.0M266.2 196.5h1.0M269.2 196.5h2.0M270.2 197.5h1.0M254.4 198.5h1.0M266.2 198.5h2.0M271.1 198.5h1.0M266.2 199.5h1.0M268.2 199.5h1.0M251.5 200.5h1.0M259.3 200.5h1.0M250.5 201.5h1.0M259.3 201.5h1.0M263.3 201.5h1.0M268.2 201.5h1.0M272.1 202.5h1.0M251.5 203.5h1.0M269.2 203.5h1.0M271.1 203.5h1.0M250.5 204.5h1.0M252.4 205.5h1.0M262.3 205.5h1.0M255.4 206.5h1.0M259.3 206.5h1.0M270.2 207.5h1.0M266.2 208.5h1.0M264.3 209.5h1.0M266.2 209.5h1.0M268.2 210.5h1.0M255.4 211.5h1.0M259.3 211.5h2.0M267.2 211.5h1.0M259.3 212.5h1.0M265.2 213.5h1.0M267.2 213.5h1.0M252.4 214.5h1.0M257.4 214.5h1.0M261.3 214.5h1.0M263.3 214.5h1.0M266.2 214.5h1.0M249.5 215.5h1.0M260.3 215.5h1.0M267.2 215.5h1.0M266.2 216.5h1.0M264.3 219.5h1.0M268.2 220.5h1.0M267.2 221.5h2.0M255.4 222.5h1.0M257.4 222.5h1.0M258.3 223.5h2.0M256.4 224.5h1.0M260.3 224.5h1.0M260.3 225.5h1.0M256.4 226.5h1.0M261.3 226.5h1.0M257.4 227.5h3.0M254.4 228.5h1.0M256.4 228.5h1.0M258.3 228.5h1.0M256.4 229.5h1.0M259.3 229.5h1.0M261.3 229.5h1.0M256.4 232.5h1.0M259.3 232.5h1.0M264.3 232.5h1.0M264.3 233.5h3.0M259.3 234.5h2.0M263.3 234.5h2.0M260.3 236.5h1.0M260.3 237.5h2.0M264.3 237.5h1.0M266.2 237.5h1.0M271.1 237.5h1.0M257.4 238.5h1.0M259.3 238.5h1.0M262.3 238.5h1.0M258.3 239.5h2.0M261.3 239.5h1.0M263.3 239.5h1.0M265.2 239.5h1.0M268.2 239.5h1.0M256.4 240.5h1.0M261.3 240.5h1.0M263.3 240.5h1.0M267.2 240.5h2.0M267.2 241.5h1.0M256.4 242.5h1.0M260.3 242.5h1.0M256.4 243.5h2.0M260.3 243.5h2.0M263.3 243.5h2.0M257.4 244.5h3.0M261.3 244.5h1.0M264.3 244.5h3.0M257.4 245.5h1.0M262.3 245.5h3.0M256.4 246.5h1.0M259.3 246.5h1.0M262.3 246.5h1.0M264.3 246.5h3.0M256.4 247.5h1.0M258.3 247.5h1.0M266.2 247.5h1.0M270.2 247.5h1.0M256.4 248.5h1.0M264.3 248.5h1.0M256.4 249.5h1.0M266.2 249.5h2.0M259.3 250.5h1.0M262.3 250.5h1.0M267.2 250.5h1.0M259.3 251.5h1.0M263.3 251.5h1.0M256.4 252.5h1.0M264.3 252.5h1.0M259.3 253.5h1.0M266.2 253.5h3.0M256.4 255.5h1.0M258.3 255.5h1.0M263.3 255.5h1.0M257.4 256.5h1.0M260.3 256.5h3.0M264.3 256.5h1.0M266.2 256.5h2.0M256.4 257.5h3.0M262.3 257.5h3.9M256.4 258.5h3.0M261.3 258.5h1.0M265.2 258.5h2.0M256.4 259.5h1.0M259.3 259.5h1.0M262.3 259.5h1.0M256.4 260.5h3.0M261.3 260.5h1.0M263.3 260.5h1.0M257.4 261.5h2.0M261.3 261.5h1.0M263.3 261.5h1.0M266.2 262.5h1.0M263.3 264.5h1.0M272.1 264.5h2.0M256.4 265.5h2.0M260.3 265.5h1.0M261.3 266.5h2.0M256.4 267.5h1.0M264.3 267.5h1.0M256.4 268.5h1.0M258.3 268.5h1.0M260.3 268.5h1.0M256.4 269.5h1.0M259.3 269.5h1.0M265.2 270.5h1.0M261.3 271.5h2.0M266.2 271.5h1.0M272.1 271.5h1.0M263.3 272.5h1.0M267.2 272.5h1.0M256.4 273.5h1.0M262.3 273.5h1.0M257.4 274.5h2.0M261.3 274.5h2.0M264.3 274.5h1.0M266.2 274.5h1.0M272.1 274.5h1.0M258.3 275.5h1.0M263.3 275.5h3.0M268.2 275.5h2.0M271.1 275.5h1.0M258.3 276.5h1.0M272.1 276.5h1.0M257.4 277.5h1.0M264.3 277.5h1.0M256.4 278.5h1.0M258.3 278.5h2.0M264.3 278.5h1.0M272.1 278.5h1.0M267.2 279.5h1.0M270.2 279.5h1.0M260.3 280.5h1.0M261.3 281.5h1.0M264.3 281.5h1.0M268.2 281.5h1.0M273.1 281.5h1.0M258.3 282.5h1.0M265.2 282.5h1.0M259.3 283.5h1.0M261.3 283.5h1.0M263.3 285.5h1.0M265.2 285.5h2.0M268.2 285.5h1.0M259.3 286.5h2.0M262.3 286.5h1.0M270.2 286.5h1.0M258.3 287.5h1.0M260.3 287.5h1.0M258.3 288.5h1.0M264.3 288.5h3.0M269.2 288.5h1.0M273.1 288.5h1.0M258.3 289.5h1.0M264.3 289.5h1.0M267.2 289.5h1.0M256.4 290.5h1.0M272.1 290.5h1.0M264.3 292.5h1.0M267.2 292.5h1.0M256.4 293.5h1.0M258.3 293.5h1.0M262.3 293.5h1.0M268.2 293.5h1.0M257.4 294.5h1.0M262.3 294.5h1.0M265.2 294.5h1.0M256.4 295.5h1.0M259.3 295.5h1.0M256.4 296.5h1.0M261.3 296.5h3.0M267.2 296.5h1.0M257.4 297.5h1.0M261.3 297.5h1.0M265.2 297.5h1.0M267.2 297.5h1.0M269.2 297.5h3.0M273.1 297.5h1.0M259.3 298.5h2.0M272.1 298.5h1.0M263.3 299.5h1.0M267.2 299.5h1.0M259.3 300.5h1.0M268.2 300.5h2.0M263.3 301.5h1.0M267.2 301.5h1.0M259.3 302.5h3.0M263.3 302.5h2.0M269.2 302.5h1.0M249.5 303.5h1.0M256.4 303.5h3.9M265.2 303.5h1.0M270.2 303.5h1.0M257.4 304.5h2.0M262.3 304.5h2.0M273.1 304.5h1.0M257.4 305.5h2.0M267.2 305.5h1.0M272.1 305.5h1.0M258.3 306.5h1.0M264.3 306.5h1.0M267.2 306.5h3.0M258.3 307.5h1.0M261.3 307.5h1.0M263.3 307.5h1.0M265.2 307.5h1.0M270.2 307.5h1.0M258.3 308.5h2.0M263.3 308.5h1.0M273.1 308.5h1.0M258.3 309.5h2.0M261.3 309.5h1.0M268.2 309.5h1.0M257.4 310.5h1.0M260.3 310.5h1.0M265.2 310.5h2.0M273.1 310.5h1.0M257.4 311.5h1.0M265.2 311.5h1.0M267.2 311.5h1.0M261.3 312.5h1.0M265.2 312.5h1.0M260.3 313.5h2.0M265.2 314.5h1.0M271.1 314.5h1.0M262.3 315.5h1.0M266.2 315.5h1.0M257.4 316.5h1.0M260.3 316.5h1.0M262.3 316.5h1.0M264.3 316.5h1.0M256.4 317.5h2.0M260.3 317.5h1.0M262.3 317.5h2.0M273.1 317.5h1.0M258.3 318.5h1.0M270.2 318.5h1.0M273.1 318.5h1.0M266.2 319.5h1.0M256.4 320.5h1.0M260.3 320.5h1.0M272.1 320.5h2.0M250.5 321.5h1.0M257.4 321.5h1.0M262.3 321.5h1.0M271.1 321.5h1.0M261.3 322.5h3.0M268.2 322.5h2.0M262.3 323.5h1.0M268.2 323.5h1.0M262.3 324.5h1.0M264.3 325.5h1.0M267.2 325.5h1.0M273.1 325.5h1.0M256.4 326.5h3.9M266.2 326.5h1.0M273.1 326.5h1.0M270.2 327.5h1.0M273.1 327.5h1.0M267.2 328.5h1.0M270.2 328.5h2.0M258.3 329.5h1.0M268.2 329.5h1.0M271.1 329.5h1.0M259.3 330.5h1.0M265.2 330.5h1.0M268.2 330.5h1.0M251.5 332.5h1.0M266.2 332.5h2.0M264.3 333.5h1.0M267.2 333.5h1.0M269.2 333.5h1.0M273.1 333.5h1.0M258.3 334.5h1.0M266.2 335.5h1.0M252.4 336.5h1.0M257.4 336.5h1.0M273.1 336.5h1.0M248.5 337.5h1.0M253.4 337.5h1.0M266.2 337.5h1.0M271.1 337.5h1.0M260.3 338.5h2.0M265.2 338.5h1.0M267.2 338.5h2.0M270.2 338.5h1.0M272.1 338.5h1.0M260.3 339.5h1.0M265.2 339.5h1.0M267.2 339.5h1.0M273.1 340.5h1.0M256.4 341.5h1.0M259.3 341.5h3.0M266.2 341.5h1.0M273.1 341.5h1.0M250.5 342.5h1.0M258.3 342.5h1.0M271.1 342.5h1.0M248.5 343.5h1.0M256.4 343.5h1.0M262.3 344.5h1.0M264.3 344.5h1.0M266.2 344.5h2.0M266.2 345.5h1.0M269.2 345.5h1.0M261.3 346.5h2.0M270.2 346.5h1.0M273.1 346.5h1.0M257.4 347.5h1.0M268.2 347.5h1.0M262.3 348.5h1.0M265.2 348.5h1.0M267.2 348.5h2.0M264.3 349.5h2.0M269.2 349.5h1.0M258.3 350.5h1.0M264.3 350.5h3.0M268.2 350.5h1.0M271.1 350.5h1.0M262.3 351.5h1.0M264.3 351.5h1.0M272.1 352.5h2.0M267.2 353.5h1.0M269.2 353.5h1.0M272.1 353.5h1.0M264.3 354.5h2.0M260.3 355.5h1.0M269.2 355.5h1.0M257.4 356.5h1.0M268.2 356.5h2.0M258.3 357.5h1.0M266.2 357.5h1.0M261.3 358.5h1.0M267.2 358.5h1.0M250.5 359.5h1.0M256.4 359.5h1.0M267.2 359.5h1.0M271.1 359.5h1.0M254.4 360.5h1.0M256.4 360.5h1.0M259.3 360.5h2.0M259.3 361.5h1.0M269.2 361.5h1.0M256.4 362.5h1.0M273.1 362.5h1.0M271.1 363.5h1.0M257.4 364.5h1.0M259.3 364.5h1.0M252.4 365.5h1.0M255.4 365.5h1.0M258.3 365.5h2.0M260.3 366.5h1.0M262.3 366.5h1.0M273.1 366.5h1.0M256.4 367.5h1.0M254.4 368.5h1.0M257.4 368.5h1.0M271.1 368.5h2.0M256.4 369.5h1.0M269.2 369.5h1.0M249.5 370.5h1.0M253.4 370.5h1.0M258.3 370.5h1.0M261.3 370.5h1.0M257.4 371.5h2.0M272.1 371.5h2.0M254.4 373.5h1.0M258.3 373.5h1.0M255.4 374.5h1.0M272.1 374.5h1.0M260.3 375.5h1.0M270.2 375.5h1.0M257.4 376.5h1.0M259.3 376.5h1.0M271.1 376.5h1.0M248.5 377.5h1.0M258.3 377.5h1.0M261.3 377.5h1.0M248.5 378.5h1.0M256.4 378.5h1.0M258.3 378.5h1.0M257.4 379.5h1.0M259.3 379.5h1.0M267.2 379.5h1.0M269.2 379.5h1.0M257.4 380.5h1.0M252.4 381.5h1.0M263.3 381.5h1.0M271.1 382.5h1.0M256.4 383.5h1.0M267.2 383.5h1.0M259.3 384.5h1.0M264.3 384.5h2.0M257.4 386.5h3.0M263.3 386.5h1.0M257.4 387.5h1.0M270.2 387.5h1.0M261.3 388.5h1.0M263.3 388.5h3.0M267.2 388.5h1.0M254.4 389.5h3.0M261.3 389.5h1.0M265.2 389.5h1.0M267.2 389.5h1.0M270.2 389.5h2.0M250.5 390.5h3.0M257.4 390.5h1.0M264.3 390.5h1.0M250.5 391.5h1.0M263.3 391.5h1.0M254.4 392.5h1.0M262.3 393.5h1.0M268.2 393.5h1.0M250.5 394.5h1.0M254.4 394.5h1.0M265.2 394.5h1.0M259.3 395.5h1.0M263.3 395.5h1.0M266.2 395.5h1.0M270.2 395.5h1.0M256.4 396.5h1.0M259.3 396.5h1.0M257.4 397.5h1.0M264.3 397.5h1.0M257.4 398.5h1.0M259.3 398.5h1.0M263.3 398.5h3.0M254.4 399.5h1.0M258.3 399.5h1.0M265.2 399.5h1.0M257.4 400.5h1.0M261.3 400.5h1.0M263.3 400.5h1.0M258.3 401.5h2.0M254.4 402.5h1.0M259.3 402.5h1.0M261.3 402.5h2.0M254.4 403.5h1.0M257.4 403.5h2.0M262.3 403.5h2.0M256.4 404.5h2.0M261.3 404.5h1.0M263.3 404.5h1.0M271.1 404.5h1.0M248.5 405.5h2.0M257.4 405.5h1.0M250.5 407.5h1.0M254.4 407.5h1.0M257.4 407.5h1.0M259.3 407.5h1.0M266.2 407.5h1.0M268.2 408.5h1.0M271.1 408.5h1.0M250.5 409.5h1.0M256.4 409.5h1.0M258.3 409.5h1.0M261.3 409.5h1.0M256.4 410.5h1.0M261.3 410.5h3.0M269.2 410.5h2.0M265.2 412.5h1.0M250.5 413.5h1.0M266.2 414.5h1.0M254.4 415.5h1.0M261.3 415.5h1.0M253.4 416.5h1.0M256.4 416.5h1.0M270.2 416.5h1.0M257.4 419.5h1.0M261.3 419.5h3.0M261.3 420.5h1.0M265.2 420.5h2.0M249.5 421.5h1.0M258.3 421.5h1.0M260.3 421.5h1.0M262.3 421.5h1.0M270.2 421.5h2.0M256.4 422.5h1.0M260.3 422.5h1.0M258.3 423.5h1.0M267.2 423.5h1.0M258.3 424.5h1.0M266.2 424.5h1.0M271.1 424.5h1.0M252.4 425.5h1.0M254.4 425.5h1.0M257.4 425.5h1.0M262.3 425.5h1.0M266.2 425.5h1.0M270.2 425.5h1.0M253.4 426.5h3.0M266.2 426.5h3.0M263.3 427.5h1.0M267.2 427.5h1.0M257.4 428.5h1.0M263.3 428.5h1.0M257.4 429.5h2.0M263.3 429.5h1.0M252.4 430.5h1.0M256.4 430.5h1.0M259.3 430.5h1.0M268.2 430.5h1.0M251.5 431.5h1.0M256.4 431.5h1.0M270.2 431.5h1.0M251.5 432.5h1.0M255.4 432.5h1.0M259.3 432.5h2.0M256.4 433.5h1.0M261.3 433.5h1.0M255.4 434.5h1.0M262.3 435.5h1.0M266.2 435.5h1.0M273.1 435.5h1.0M249.5 436.5h1.0M254.4 436.5h1.0M258.3 436.5h1.0M256.4 437.5h1.0M259.3 437.5h1.0M264.3 437.5h1.0M248.5 438.5h1.0M264.3 438.5h2.0M249.5 439.5h1.0M260.3 439.5h2.0M263.3 439.5h1.0M250.5 440.5h1.0M256.4 440.5h4.9M263.3 440.5h1.0M265.2 440.5h1.0M257.4 441.5h1.0M259.3 441.5h2.0M266.2 441.5h1.0M249.5 442.5h1.0M257.4 442.5h1.0M264.3 442.5h1.0M264.3 443.5h1.0M258.3 444.5h1.0M265.2 444.5h1.0M257.4 445.5h1.0M261.3 445.5h1.0M265.2 445.5h1.0"/>
<path stroke="#a4220e" stroke-width="1.02" fill="none" d="M257.4 38.5h1.0M270.2 39.5h2.0M261.3 40.5h1.0M263.3 40.5h2.0M270.2 40.5h1.0M259.3 41.5h1.0M263.3 41.5h2.0M267.2 41.5h1.0M273.1 41.5h1.0M263.3 43.5h2.0M257.4 44.5h2.0M268.2 44.5h1.0M257.4 45.5h2.0M262.3 45.5h1.0M266.2 45.5h1.0M268.2 45.5h1.0M261.3 46.5h1.0M264.3 46.5h1.0M251.5 47.5h1.0M256.4 47.5h1.0M262.3 47.5h1.0M264.3 47.5h1.0M271.1 47.5h1.0M257.4 48.5h2.0M264.3 48.5h1.0M266.2 48.5h1.0M257.4 49.5h1.0M260.3 49.5h1.0M262.3 49.5h1.0M253.4 50.5h1.0M256.4 50.5h3.0M261.3 50.5h1.0M258.3 51.5h3.0M257.4 52.5h1.0M260.3 52.5h1.0M262.3 52.5h1.0M266.2 52.5h1.0M270.2 53.5h1.0M267.2 54.5h1.0M256.4 55.5h1.0M259.3 55.5h1.0M266.2 55.5h1.0M268.2 55.5h1.0M257.4 56.5h1.0M256.4 57.5h1.0M262.3 57.5h1.0M265.2 57.5h1.0M272.1 57.5h1.0M256.4 58.5h1.0M260.3 59.5h1.0M265.2 59.5h1.0M257.4 60.5h2.0M260.3 60.5h1.0M267.2 60.5h1.0M273.1 60.5h1.0M258.3 61.5h1.0M263.3 61.5h1.0M258.3 62.5h1.0M269.2 62.5h1.0M261.3 63.5h1.0M270.2 63.5h1.0M260.3 64.5h1.0M262.3 64.5h2.0M267.2 64.5h2.0M263.3 65.5h1.0M269.2 65.5h3.0M273.1 65.5h1.0M259.3 66.5h1.0M264.3 66.5h1.0M265.2 67.5h1.0M257.4 68.5h1.0M263.3 68.5h1.0M265.2 68.5h1.0M269.2 68.5h1.0M266.2 69.5h1.0M271.1 69.5h1.0M273.1 69.5h1.0M270.2 70.5h1.0M258.3 71.5h1.0M264.3 71.5h2.0M267.2 71.5h1.0M269.2 71.5h1.0M265.2 72.5h1.0M269.2 72.5h1.0M271.1 72.5h1.0M260.3 73.5h1.0M263.3 73.5h2.0M271.1 73.5h1.0M273.1 73.5h1.0M257.4 74.5h3.0M266.2 74.5h1.0M270.2 74.5h1.0M273.1 74.5h1.0M262.3 75.5h1.0M273.1 75.5h1.0M261.3 76.5h1.0M264.3 76.5h2.0M260.3 77.5h1.0M263.3 77.5h1.0M266.2 77.5h1.0M257.4 78.5h1.0M266.2 78.5h1.0M256.4 79.5h2.0M262.3 79.5h1.0M272.1 79.5h2.0M256.4 80.5h1.0M261.3 80.5h2.0M264.3 80.5h1.0M269.2 80.5h1.0M258.3 82.5h1.0M258.3 83.5h3.0M257.4 85.5h1.0M259.3 86.5h1.0M261.3 86.5h1.0M263.3 86.5h1.0M266.2 86.5h1.0M257.4 87.5h1.0M259.3 87.5h1.0M262.3 87.5h2.0M258.3 88.5h2.0M265.2 88.5h1.0M258.3 89.5h2.0M262.3 89.5h1.0M264.3 89.5h1.0M256.4 90.5h2.0M259.3 90.5h2.0M271.1 90.5h2.0M257.4 91.5h2.0M261.3 91.5h1.0M267.2 91.5h1.0M259.3 92.5h1.0M265.2 92.5h1.0M256.4 93.5h1.0M266.2 93.5h1.0M262.3 94.5h1.0M266.2 94.5h1.0M256.4 95.5h1.0M262.3 95.5h2.0M260.3 96.5h3.0M264.3 96.5h1.0M266.2 96.5h1.0M256.4 97.5h1.0M258.3 97.5h1.0M260.3 97.5h2.0M265.2 97.5h1.0M261.3 98.5h1.0M264.3 98.5h1.0M256.4 99.5h1.0M264.3 99.5h1.0M256.4 100.5h3.9M264.3 100.5h1.0M266.2 100.5h1.0M257.4 101.5h1.0M258.3 102.5h1.0M265.2 102.5h1.0M263.3 103.5h1.0M271.1 103.5h1.0M260.3 104.5h2.0M265.2 104.5h1.0M258.3 105.5h1.0M261.3 105.5h2.0M256.4 106.5h1.0M259.3 106.5h1.0M263.3 106.5h3.0M261.3 107.5h1.0M268.2 107.5h1.0M271.1 107.5h1.0M256.4 108.5h2.0M259.3 108.5h1.0M264.3 108.5h1.0M269.2 108.5h1.0M269.2 109.5h1.0M264.3 110.5h1.0M259.3 111.5h1.0M264.3 111.5h1.0M272.1 111.5h1.0M263.3 112.5h1.0M260.3 113.5h1.0M263.3 113.5h1.0M258.3 114.5h2.0M264.3 114.5h1.0M264.3 115.5h2.0M265.2 116.5h3.9M266.2 117.5h1.0M258.3 118.5h1.0M261.3 118.5h1.0M263.3 118.5h1.0M268.2 118.5h1.0M261.3 120.5h2.0M269.2 120.5h1.0M257.4 121.5h1.0M260.3 121.5h1.0M262.3 122.5h1.0M259.3 123.5h1.0M268.2 123.5h1.0M258.3 127.5h1.0M261.3 127.5h1.0M258.3 128.5h1.0M259.3 129.5h1.0M263.3 129.5h1.0M273.1 129.5h1.0M258.3 130.5h3.0M273.1 130.5h1.0M259.3 131.5h3.0M257.4 132.5h1.0M259.3 132.5h2.0M261.3 134.5h1.0M256.4 135.5h1.0M261.3 135.5h2.0M268.2 135.5h1.0M272.1 135.5h2.0M258.3 136.5h1.0M262.3 136.5h1.0M266.2 136.5h3.9M257.4 137.5h2.0M260.3 137.5h1.0M263.3 137.5h1.0M266.2 137.5h1.0M272.1 137.5h1.0M261.3 138.5h2.0M268.2 138.5h1.0M272.1 138.5h1.0M257.4 139.5h1.0M260.3 139.5h1.0M262.3 139.5h1.0M264.3 139.5h2.0M267.2 139.5h2.0M273.1 139.5h1.0M256.4 140.5h1.0M260.3 140.5h1.0M262.3 140.5h2.0M265.2 140.5h1.0M260.3 141.5h1.0M265.2 142.5h1.0M251.5 143.5h1.0M260.3 144.5h1.0M265.2 144.5h1.0M259.3 145.5h1.0M263.3 145.5h1.0M250.5 146.5h1.0M260.3 147.5h1.0M265.2 147.5h1.0M265.2 148.5h1.0M268.2 149.5h1.0M263.3 150.5h1.0M260.3 153.5h1.0M261.3 158.5h1.0M269.2 159.5h1.0M272.1 159.5h2.0M251.5 161.5h1.0M257.4 161.5h2.0M265.2 161.5h1.0M267.2 161.5h1.0M271.1 161.5h1.0M273.1 161.5h1.0M257.4 162.5h1.0M261.3 162.5h1.0M261.3 163.5h1.0M263.3 164.5h1.0M270.2 164.5h1.0M262.3 167.5h2.0M267.2 167.5h1.0M272.1 167.5h1.0M256.4 171.5h3.0M266.2 171.5h1.0M268.2 171.5h1.0M256.4 173.5h1.0M256.4 175.5h1.0M263.3 175.5h1.0M256.4 176.5h1.0M259.3 178.5h3.9M256.4 179.5h1.0M262.3 179.5h1.0M261.3 180.5h1.0M257.4 182.5h1.0M270.2 182.5h1.0M272.1 182.5h2.0M252.4 183.5h1.0M257.4 183.5h1.0M269.2 183.5h1.0M253.4 184.5h1.0M260.3 184.5h1.0M273.1 184.5h1.0M270.2 185.5h1.0M259.3 186.5h1.0M269.2 186.5h1.0M258.3 187.5h1.0M269.2 187.5h1.0M259.3 188.5h1.0M271.1 189.5h1.0M250.5 190.5h2.0M258.3 190.5h2.0M250.5 191.5h2.0M258.3 191.5h2.0M257.4 192.5h1.0M261.3 192.5h1.0M251.5 193.5h1.0M256.4 193.5h2.0M261.3 193.5h1.0M251.5 194.5h1.0M255.4 195.5h2.0M258.3 195.5h1.0M255.4 196.5h1.0M257.4 196.5h3.0M265.2 196.5h1.0M261.3 200.5h1.0M249.5 202.5h1.0M256.4 202.5h1.0M255.4 203.5h1.0M259.3 203.5h2.0M263.3 203.5h1.0M265.2 203.5h1.0M267.2 204.5h1.0M269.2 204.5h1.0M272.1 204.5h1.0M263.3 205.5h1.0M269.2 205.5h1.0M272.1 205.5h1.0M250.5 206.5h1.0M262.3 206.5h1.0M271.1 206.5h1.0M261.3 207.5h1.0M261.3 208.5h1.0M251.5 211.5h1.0M249.5 213.5h1.0M268.2 213.5h1.0M250.5 214.5h1.0M258.3 214.5h1.0M272.1 215.5h1.0M258.3 216.5h1.0M273.1 216.5h1.0M248.5 217.5h1.0M251.5 217.5h1.0M265.2 217.5h1.0M267.2 217.5h1.0M270.2 217.5h1.0M272.1 217.5h1.0M250.5 218.5h3.9M264.3 218.5h3.0M248.5 219.5h1.0M251.5 219.5h1.0M266.2 219.5h1.0M268.2 219.5h1.0M270.2 219.5h1.0M248.5 220.5h1.0M251.5 220.5h1.0M249.5 221.5h1.0M252.4 222.5h1.0M265.2 222.5h1.0M267.2 222.5h1.0M273.1 222.5h1.0M249.5 223.5h1.0M253.4 223.5h1.0M265.2 223.5h1.0M253.4 224.5h1.0M248.5 227.5h1.0M251.5 227.5h1.0M262.3 227.5h1.0M270.2 227.5h1.0M249.5 228.5h1.0M252.4 228.5h1.0M270.2 228.5h3.0M248.5 229.5h1.0M250.5 229.5h1.0M255.4 229.5h1.0M263.3 229.5h1.0M265.2 229.5h1.0M268.2 229.5h1.0M248.5 230.5h2.0M254.4 230.5h1.0M257.4 230.5h1.0M259.3 230.5h1.0M261.3 230.5h1.0M264.3 230.5h3.0M272.1 230.5h1.0M252.4 231.5h3.0M256.4 231.5h3.0M260.3 231.5h1.0M262.3 231.5h2.0M266.2 231.5h1.0M273.1 231.5h1.0M251.5 232.5h1.0M250.5 233.5h1.0M273.1 233.5h1.0M249.5 234.5h1.0M251.5 234.5h1.0M253.4 234.5h1.0M252.4 235.5h1.0M251.5 236.5h1.0M253.4 236.5h2.0M267.2 236.5h2.0M249.5 237.5h1.0M252.4 237.5h1.0M254.4 237.5h1.0M273.1 237.5h1.0M250.5 238.5h1.0M252.4 238.5h2.0M255.4 238.5h1.0M273.1 238.5h1.0M267.2 239.5h1.0M249.5 240.5h1.0M273.1 240.5h1.0M250.5 241.5h1.0M255.4 241.5h1.0M255.4 242.5h1.0M271.1 242.5h2.0M248.5 243.5h2.0M253.4 243.5h2.0M249.5 244.5h2.0M254.4 244.5h1.0M249.5 246.5h1.0M252.4 246.5h1.0M272.1 247.5h1.0M248.5 249.5h2.0M251.5 249.5h1.0M253.4 250.5h1.0M270.2 250.5h1.0M272.1 250.5h1.0M252.4 251.5h1.0M254.4 251.5h1.0M270.2 251.5h1.0M255.4 252.5h1.0M269.2 252.5h2.0M249.5 253.5h1.0M270.2 253.5h2.0M273.1 253.5h1.0M252.4 255.5h1.0M254.4 255.5h1.0M248.5 256.5h1.0M252.4 256.5h1.0M254.4 256.5h2.0M249.5 257.5h3.0M253.4 257.5h1.0M248.5 258.5h1.0M251.5 258.5h3.0M269.2 258.5h1.0M248.5 259.5h1.0M251.5 259.5h2.0M255.4 259.5h1.0M251.5 260.5h2.0M272.1 260.5h1.0M248.5 261.5h1.0M251.5 261.5h2.0M254.4 261.5h1.0M253.4 262.5h1.0M268.2 262.5h2.0M271.1 262.5h1.0M249.5 263.5h1.0M252.4 263.5h1.0M268.2 263.5h1.0M248.5 264.5h1.0M253.4 264.5h1.0M268.2 264.5h1.0M248.5 265.5h1.0M251.5 265.5h2.0M254.4 265.5h2.0M249.5 266.5h2.0M253.4 266.5h2.0M268.2 266.5h2.0M272.1 266.5h1.0M248.5 267.5h1.0M253.4 267.5h1.0M271.1 267.5h1.0M248.5 268.5h2.0M255.4 268.5h1.0M270.2 269.5h3.9M252.4 270.5h2.0M248.5 271.5h1.0M250.5 271.5h1.0M253.4 271.5h1.0M255.4 271.5h1.0M271.1 271.5h1.0M252.4 272.5h1.0M250.5 273.5h1.0M253.4 273.5h1.0M268.2 273.5h1.0M250.5 274.5h1.0M268.2 274.5h2.0M248.5 275.5h1.0M251.5 275.5h1.0M254.4 275.5h1.0M248.5 276.5h1.0M253.4 277.5h2.0M251.5 278.5h1.0M253.4 278.5h1.0M255.4 278.5h1.0M250.5 279.5h1.0M253.4 279.5h1.0M255.4 279.5h1.0M253.4 280.5h1.0M263.3 280.5h1.0M248.5 281.5h2.0M253.4 281.5h1.0M255.4 281.5h1.0M263.3 281.5h1.0M250.5 282.5h1.0M253.4 282.5h1.0M255.4 282.5h1.0M269.2 283.5h1.0M248.5 286.5h1.0M254.4 286.5h1.0M249.5 287.5h2.0M251.5 288.5h1.0M253.4 288.5h3.0M252.4 289.5h1.0M250.5 290.5h1.0M250.5 291.5h1.0M252.4 291.5h1.0M255.4 291.5h1.0M268.2 291.5h1.0M250.5 292.5h1.0M252.4 292.5h1.0M254.4 292.5h1.0M248.5 293.5h1.0M248.5 294.5h2.0M252.4 294.5h1.0M271.1 294.5h1.0M248.5 295.5h1.0M248.5 296.5h1.0M252.4 296.5h1.0M254.4 296.5h1.0M250.5 297.5h1.0M252.4 297.5h2.0M255.4 297.5h1.0M249.5 299.5h1.0M253.4 299.5h1.0M248.5 300.5h1.0M249.5 301.5h2.0M252.4 301.5h2.0M254.4 302.5h1.0M254.4 303.5h1.0M250.5 304.5h1.0M252.4 304.5h1.0M248.5 306.5h1.0M251.5 306.5h2.0M254.4 306.5h2.0M248.5 307.5h1.0M254.4 307.5h2.0M253.4 308.5h1.0M255.4 308.5h1.0M271.1 308.5h1.0M255.4 309.5h1.0M249.5 310.5h2.0M252.4 310.5h1.0M248.5 311.5h1.0M253.4 312.5h1.0M255.4 312.5h1.0M248.5 313.5h2.0M253.4 313.5h2.0M248.5 314.5h1.0M250.5 314.5h1.0M255.4 314.5h1.0M253.4 315.5h1.0M255.4 315.5h1.0M255.4 316.5h1.0M251.5 317.5h2.0M251.5 318.5h1.0M249.5 320.5h1.0M251.5 320.5h1.0M253.4 320.5h1.0M268.2 321.5h1.0M252.4 322.5h1.0M250.5 323.5h1.0M267.2 323.5h1.0M268.2 324.5h1.0M250.5 326.5h1.0M255.4 326.5h1.0M252.4 327.5h1.0M252.4 328.5h1.0M269.2 328.5h1.0M248.5 329.5h3.0M251.5 330.5h1.0M255.4 330.5h1.0M273.1 330.5h1.0M249.5 331.5h1.0M252.4 331.5h1.0M252.4 332.5h1.0M270.2 332.5h1.0M268.2 333.5h1.0M248.5 334.5h3.9M251.5 336.5h1.0M269.2 336.5h1.0M248.5 338.5h1.0M251.5 338.5h1.0M255.4 338.5h1.0M257.4 338.5h1.0M256.4 339.5h2.0M248.5 340.5h1.0M252.4 340.5h1.0M253.4 341.5h1.0M253.4 342.5h1.0M253.4 344.5h2.0M249.5 345.5h1.0M252.4 345.5h1.0M254.4 345.5h2.0M248.5 346.5h1.0M250.5 346.5h1.0M253.4 346.5h2.0M249.5 348.5h1.0M253.4 348.5h1.0M251.5 349.5h1.0M252.4 350.5h1.0M250.5 351.5h2.0M255.4 351.5h1.0M250.5 352.5h1.0M249.5 353.5h1.0M251.5 353.5h3.0M249.5 354.5h1.0M254.4 354.5h1.0M255.4 356.5h1.0M261.3 356.5h2.0M264.3 356.5h1.0M266.2 356.5h2.0M271.1 356.5h1.0M251.5 357.5h1.0M264.3 357.5h1.0M272.1 357.5h1.0M252.4 358.5h1.0M264.3 359.5h2.0M262.3 360.5h1.0M264.3 360.5h2.0M265.2 361.5h1.0M252.4 362.5h1.0M248.5 363.5h1.0M264.3 363.5h1.0M248.5 364.5h1.0M262.3 364.5h2.0M265.2 365.5h2.0M255.4 366.5h1.0M264.3 367.5h1.0M255.4 368.5h1.0M250.5 369.5h1.0M266.2 369.5h1.0M248.5 370.5h1.0M250.5 370.5h2.0M264.3 370.5h1.0M267.2 370.5h1.0M250.5 371.5h2.0M263.3 371.5h1.0M269.2 371.5h1.0M250.5 372.5h1.0M266.2 372.5h1.0M252.4 373.5h1.0M263.3 373.5h1.0M265.2 373.5h1.0M253.4 374.5h1.0M264.3 374.5h1.0M262.3 375.5h1.0M264.3 375.5h2.0M266.2 376.5h2.0M269.2 376.5h1.0M262.3 377.5h1.0M267.2 377.5h1.0M251.5 378.5h1.0M254.4 378.5h1.0M262.3 378.5h1.0M264.3 378.5h1.0M251.5 379.5h1.0M253.4 379.5h1.0M263.3 379.5h2.0M267.2 381.5h1.0M261.3 383.5h1.0M273.1 383.5h1.0M252.4 384.5h2.0M255.4 384.5h1.0M273.1 384.5h1.0M254.4 385.5h1.0M267.2 386.5h1.0M248.5 388.5h2.0M253.4 389.5h1.0M255.4 390.5h1.0M255.4 391.5h1.0M248.5 392.5h1.0M264.3 392.5h1.0M271.1 392.5h1.0M252.4 393.5h1.0M254.4 393.5h1.0M261.3 393.5h1.0M252.4 394.5h1.0M273.1 394.5h1.0M273.1 395.5h1.0M252.4 396.5h2.0M271.1 396.5h2.0M269.2 398.5h1.0M251.5 399.5h2.0M267.2 399.5h1.0M270.2 399.5h1.0M271.1 400.5h1.0M251.5 401.5h1.0M248.5 402.5h1.0M273.1 402.5h1.0M248.5 403.5h1.0M266.2 403.5h1.0M272.1 403.5h1.0M252.4 404.5h2.0M263.3 406.5h1.0M269.2 406.5h1.0M249.5 407.5h1.0M248.5 408.5h1.0M254.4 408.5h1.0M262.3 408.5h1.0M255.4 409.5h1.0M265.2 410.5h1.0M267.2 410.5h1.0M252.4 411.5h1.0M268.2 411.5h1.0M272.1 411.5h1.0M254.4 412.5h1.0M273.1 412.5h1.0M256.4 413.5h1.0M268.2 413.5h2.0M263.3 414.5h1.0M248.5 415.5h1.0M257.4 415.5h1.0M271.1 415.5h1.0M251.5 416.5h1.0M254.4 416.5h2.0M263.3 416.5h1.0M256.4 417.5h1.0M271.1 417.5h1.0M268.2 418.5h1.0M271.1 420.5h1.0M259.3 421.5h1.0M273.1 422.5h1.0M248.5 423.5h1.0M252.4 423.5h2.0M264.3 423.5h1.0M263.3 424.5h1.0M249.5 425.5h1.0M272.1 425.5h1.0M250.5 426.5h2.0M269.2 426.5h1.0M268.2 427.5h1.0M249.5 428.5h1.0M252.4 428.5h1.0M255.4 428.5h2.0M260.3 428.5h1.0M266.2 428.5h1.0M249.5 429.5h1.0M269.2 429.5h1.0M266.2 430.5h1.0M270.2 430.5h1.0M261.3 431.5h1.0M268.2 431.5h1.0M272.1 431.5h1.0M248.5 432.5h1.0M271.1 432.5h2.0M254.4 433.5h1.0M269.2 433.5h1.0M248.5 434.5h1.0M250.5 434.5h1.0M252.4 434.5h1.0M270.2 434.5h1.0M248.5 435.5h1.0M252.4 435.5h1.0M255.4 435.5h1.0M270.2 435.5h1.0M268.2 436.5h1.0M271.1 437.5h1.0M268.2 438.5h1.0M271.1 438.5h1.0M252.4 439.5h1.0M267.2 439.5h1.0M269.2 439.5h2.0M248.5 440.5h2.0M268.2 440.5h1.0M249.5 441.5h1.0M251.5 441.5h2.0M251.5 442.5h3.0M248.5 444.5h1.0M267.2 444.5h1.0M272.1 444.5h1.0M268.2 445.5h1.0M270.2 445.5h1.0"/>
<path stroke="#2f8a2a" stroke-width="1.02" fill="none" d="M271.1 38.5h1.0M252.4 39.5h1.0M266.2 39.5h1.0M252.4 40.5h1.0M253.4 42.5h2.0M252.4 43.5h3.9M260.3 43.5h1.0M252.4 44.5h1.0M255.4 44.5h1.0M253.4 45.5h1.0M249.5 47.5h1.0M249.5 49.5h1.0M251.5 49.5h1.0M249.5 51.5h1.0M255.4 51.5h1.0M250.5 52.5h2.0M250.5 53.5h1.0M255.4 53.5h1.0M248.5 54.5h1.0M252.4 54.5h2.0M272.1 54.5h1.0M253.4 55.5h1.0M255.4 55.5h1.0M270.2 55.5h1.0M272.1 55.5h1.0M252.4 57.5h1.0M249.5 59.5h1.0M255.4 59.5h1.0M261.3 59.5h1.0M268.2 59.5h1.0M270.2 59.5h1.0M251.5 61.5h1.0M253.4 61.5h1.0M248.5 64.5h1.0M250.5 64.5h1.0M248.5 65.5h1.0M249.5 66.5h1.0M254.4 66.5h1.0M252.4 67.5h1.0M248.5 68.5h1.0M253.4 68.5h1.0M251.5 69.5h2.0M254.4 69.5h1.0M267.2 69.5h1.0M251.5 70.5h1.0M255.4 70.5h1.0M270.2 71.5h1.0M252.4 73.5h2.0M267.2 74.5h1.0M256.4 75.5h1.0M271.1 75.5h1.0M248.5 76.5h1.0M249.5 77.5h1.0M251.5 77.5h3.0M255.4 77.5h1.0M272.1 77.5h1.0M271.1 78.5h2.0M248.5 79.5h2.0M267.2 80.5h1.0M269.2 81.5h1.0M271.1 81.5h1.0M268.2 82.5h1.0M271.1 82.5h2.0M267.2 83.5h1.0M268.2 84.5h1.0M268.2 85.5h1.0M252.4 86.5h1.0M268.2 86.5h1.0M272.1 86.5h1.0M248.5 87.5h1.0M251.5 87.5h1.0M253.4 87.5h1.0M269.2 87.5h1.0M248.5 88.5h2.0M251.5 88.5h2.0M254.4 88.5h1.0M270.2 88.5h1.0M250.5 89.5h2.0M271.1 89.5h1.0M248.5 90.5h1.0M251.5 91.5h2.0M248.5 92.5h1.0M252.4 92.5h1.0M252.4 94.5h1.0M254.4 94.5h1.0M270.2 94.5h1.0M272.1 95.5h1.0M251.5 96.5h2.0M254.4 96.5h2.0M270.2 96.5h1.0M270.2 98.5h1.0M273.1 98.5h1.0M250.5 99.5h2.0M253.4 99.5h2.0M249.5 100.5h3.0M253.4 100.5h2.0M269.2 100.5h1.0M272.1 100.5h1.0M251.5 102.5h1.0M250.5 103.5h1.0M250.5 104.5h1.0M267.2 104.5h2.0M250.5 106.5h1.0M253.4 106.5h1.0M248.5 107.5h2.0M252.4 108.5h1.0M254.4 108.5h1.0M253.4 109.5h1.0M251.5 110.5h1.0M253.4 110.5h1.0M248.5 111.5h1.0M252.4 111.5h1.0M248.5 112.5h3.9M248.5 113.5h2.0M249.5 114.5h1.0M251.5 114.5h2.0M255.4 114.5h1.0M250.5 115.5h1.0M254.4 115.5h1.0M254.4 116.5h1.0M249.5 118.5h1.0M251.5 118.5h2.0M255.4 118.5h1.0M250.5 119.5h2.0M253.4 119.5h1.0M252.4 120.5h1.0M248.5 121.5h1.0M248.5 122.5h1.0M251.5 122.5h1.0M254.4 122.5h1.0M250.5 123.5h2.0M253.4 125.5h1.0M248.5 126.5h5.9M252.4 127.5h1.0M254.4 128.5h2.0M269.2 129.5h1.0M255.4 130.5h1.0M248.5 131.5h1.0M252.4 131.5h1.0M249.5 132.5h3.0M254.4 132.5h2.0M250.5 133.5h1.0M252.4 133.5h1.0M248.5 134.5h1.0M252.4 134.5h1.0M248.5 135.5h1.0M251.5 135.5h2.0M254.4 135.5h1.0M252.4 136.5h1.0M248.5 137.5h1.0M250.5 138.5h1.0M252.4 138.5h2.0M249.5 139.5h1.0M254.4 139.5h2.0M250.5 140.5h1.0M255.4 140.5h1.0M262.3 141.5h1.0M264.3 141.5h1.0M264.3 142.5h1.0M264.3 143.5h1.0M255.4 144.5h1.0M264.3 144.5h1.0M270.2 145.5h1.0M252.4 146.5h1.0M266.2 146.5h1.0M271.1 146.5h1.0M249.5 147.5h1.0M252.4 147.5h1.0M255.4 147.5h1.0M268.2 147.5h1.0M251.5 149.5h3.0M267.2 149.5h1.0M255.4 150.5h2.0M253.4 151.5h1.0M255.4 151.5h1.0M251.5 152.5h1.0M253.4 152.5h1.0M272.1 152.5h1.0M250.5 155.5h1.0M254.4 155.5h2.0M251.5 156.5h2.0M268.2 156.5h1.0M250.5 157.5h1.0M265.2 157.5h1.0M254.4 158.5h1.0M248.5 159.5h1.0M256.4 159.5h2.0M255.4 160.5h1.0M255.4 161.5h1.0M249.5 162.5h1.0M256.4 162.5h1.0M262.3 162.5h2.0M251.5 163.5h2.0M255.4 163.5h1.0M260.3 163.5h1.0M255.4 164.5h1.0M261.3 164.5h2.0M255.4 165.5h2.0M264.3 165.5h1.0M254.4 166.5h1.0M248.5 167.5h1.0M253.4 167.5h1.0M255.4 168.5h1.0M250.5 169.5h1.0M252.4 169.5h1.0M255.4 169.5h1.0M270.2 169.5h1.0M250.5 170.5h1.0M268.2 170.5h1.0M251.5 171.5h1.0M251.5 172.5h2.0M255.4 172.5h1.0M266.2 172.5h2.0M273.1 172.5h1.0M252.4 175.5h1.0M269.2 175.5h1.0M253.4 176.5h1.0M254.4 177.5h1.0M248.5 178.5h1.0M269.2 178.5h1.0M248.5 179.5h1.0M265.2 179.5h1.0M271.1 179.5h1.0M248.5 180.5h2.0M266.2 180.5h1.0M249.5 181.5h1.0M265.2 181.5h1.0M249.5 182.5h1.0M256.4 182.5h1.0M264.3 182.5h1.0M248.5 183.5h1.0M250.5 184.5h1.0M272.1 184.5h1.0M251.5 185.5h1.0M248.5 186.5h2.0M262.3 186.5h1.0M264.3 186.5h1.0M266.2 186.5h1.0M249.5 187.5h1.0M266.2 187.5h1.0M261.3 188.5h1.0M266.2 188.5h1.0M253.4 189.5h1.0M262.3 189.5h1.0M257.4 190.5h1.0M264.3 190.5h1.0M270.2 190.5h1.0M263.3 191.5h2.0M263.3 192.5h1.0M249.5 195.5h1.0M264.3 195.5h1.0M269.2 195.5h1.0M268.2 196.5h1.0M266.2 197.5h1.0M263.3 198.5h1.0M270.2 198.5h1.0M270.2 199.5h1.0M250.5 200.5h1.0M255.4 200.5h1.0M263.3 200.5h1.0M267.2 200.5h1.0M270.2 200.5h2.0M265.2 201.5h1.0M249.5 203.5h1.0M252.4 203.5h1.0M261.3 204.5h1.0M255.4 205.5h1.0M265.2 205.5h1.0M263.3 207.5h1.0M248.5 208.5h1.0M265.2 208.5h1.0M248.5 209.5h2.0M265.2 209.5h1.0M268.2 209.5h2.0M258.3 212.5h1.0M266.2 215.5h1.0M268.2 215.5h1.0M263.3 216.5h2.0M262.3 220.5h1.0M261.3 221.5h2.0M262.3 222.5h1.0M261.3 223.5h1.0M261.3 224.5h1.0M261.3 225.5h1.0M258.3 226.5h2.0M256.4 227.5h1.0M258.3 232.5h1.0M260.3 232.5h1.0M257.4 233.5h3.9M257.4 234.5h1.0M260.3 235.5h2.0M266.2 235.5h1.0M258.3 236.5h1.0M261.3 236.5h1.0M257.4 237.5h2.0M258.3 238.5h1.0M260.3 238.5h2.0M269.2 239.5h1.0M264.3 240.5h1.0M269.2 240.5h1.0M258.3 241.5h1.0M266.2 241.5h1.0M261.3 242.5h1.0M263.3 242.5h1.0M265.2 242.5h1.0M258.3 243.5h2.0M266.2 243.5h1.0M260.3 244.5h1.0M258.3 245.5h2.0M261.3 245.5h1.0M265.2 245.5h1.0M257.4 246.5h1.0M260.3 246.5h1.0M257.4 247.5h1.0M261.3 247.5h2.0M261.3 248.5h2.0M266.2 248.5h1.0M258.3 249.5h2.0M263.3 249.5h1.0M257.4 250.5h1.0M263.3 250.5h1.0M256.4 251.5h2.0M265.2 251.5h2.0M259.3 252.5h2.0M265.2 252.5h1.0M261.3 253.5h1.0M264.3 253.5h1.0M257.4 255.5h1.0M259.3 255.5h1.0M261.3 255.5h2.0M264.3 255.5h1.0M258.3 256.5h2.0M263.3 256.5h1.0M261.3 257.5h1.0M262.3 258.5h3.0M258.3 259.5h1.0M260.3 259.5h1.0M265.2 259.5h1.0M259.3 260.5h2.0M262.3 260.5h1.0M264.3 260.5h2.0M260.3 261.5h1.0M264.3 261.5h3.0M257.4 262.5h1.0M259.3 262.5h1.0M262.3 262.5h1.0M260.3 263.5h1.0M263.3 263.5h1.0M265.2 263.5h2.0M264.3 264.5h2.0M258.3 265.5h2.0M264.3 265.5h2.0M256.4 266.5h1.0M259.3 266.5h2.0M258.3 267.5h1.0M260.3 267.5h1.0M266.2 267.5h1.0M261.3 268.5h3.0M260.3 269.5h1.0M264.3 269.5h1.0M257.4 270.5h1.0M261.3 270.5h1.0M266.2 270.5h1.0M256.4 271.5h1.0M258.3 271.5h1.0M264.3 271.5h2.0M267.2 271.5h1.0M256.4 272.5h1.0M258.3 272.5h1.0M266.2 272.5h1.0M260.3 273.5h2.0M264.3 273.5h3.0M272.1 273.5h1.0M259.3 274.5h2.0M257.4 275.5h1.0M259.3 275.5h3.0M264.3 276.5h1.0M262.3 277.5h1.0M267.2 277.5h1.0M271.1 277.5h1.0M273.1 277.5h1.0M262.3 278.5h1.0M270.2 278.5h1.0M258.3 279.5h1.0M260.3 279.5h1.0M264.3 279.5h1.0M269.2 279.5h1.0M251.5 280.5h1.0M256.4 280.5h1.0M269.2 280.5h1.0M273.1 280.5h1.0M258.3 281.5h1.0M265.2 281.5h1.0M269.2 281.5h2.0M257.4 282.5h1.0M264.3 282.5h1.0M265.2 283.5h1.0M261.3 284.5h1.0M265.2 284.5h1.0M257.4 285.5h1.0M259.3 285.5h1.0M267.2 285.5h1.0M271.1 285.5h1.0M257.4 286.5h1.0M263.3 286.5h1.0M266.2 286.5h1.0M271.1 286.5h2.0M259.3 287.5h1.0M263.3 287.5h2.0M267.2 287.5h2.0M270.2 287.5h1.0M259.3 288.5h1.0M263.3 288.5h1.0M267.2 288.5h1.0M270.2 288.5h1.0M257.4 289.5h1.0M266.2 289.5h1.0M270.2 289.5h1.0M266.2 290.5h1.0M261.3 291.5h1.0M266.2 291.5h1.0M270.2 291.5h1.0M262.3 292.5h1.0M266.2 292.5h1.0M270.2 292.5h1.0M261.3 293.5h1.0M264.3 293.5h1.0M272.1 293.5h1.0M261.3 294.5h1.0M263.3 294.5h1.0M268.2 294.5h1.0M257.4 295.5h1.0M262.3 295.5h2.0M265.2 295.5h1.0M257.4 296.5h1.0M264.3 296.5h1.0M268.2 296.5h2.0M258.3 297.5h2.0M262.3 297.5h1.0M272.1 297.5h1.0M257.4 298.5h1.0M263.3 298.5h1.0M265.2 298.5h1.0M267.2 298.5h1.0M269.2 298.5h1.0M264.3 299.5h1.0M270.2 299.5h1.0M272.1 299.5h1.0M257.4 300.5h1.0M273.1 300.5h1.0M259.3 301.5h1.0M265.2 301.5h1.0M271.1 301.5h1.0M273.1 301.5h1.0M258.3 302.5h1.0M271.1 302.5h2.0M256.4 304.5h1.0M265.2 304.5h1.0M272.1 304.5h1.0M259.3 305.5h1.0M270.2 305.5h1.0M257.4 306.5h1.0M270.2 306.5h1.0M257.4 307.5h1.0M266.2 307.5h1.0M269.2 307.5h1.0M256.4 308.5h1.0M264.3 308.5h3.0M257.4 309.5h1.0M262.3 309.5h1.0M264.3 310.5h1.0M258.3 311.5h1.0M260.3 311.5h1.0M268.2 311.5h1.0M271.1 311.5h1.0M260.3 312.5h1.0M263.3 312.5h1.0M270.2 312.5h1.0M258.3 313.5h2.0M265.2 313.5h1.0M259.3 314.5h2.0M272.1 314.5h1.0M265.2 315.5h1.0M272.1 315.5h1.0M256.4 316.5h1.0M265.2 316.5h1.0M268.2 316.5h1.0M265.2 317.5h1.0M268.2 317.5h1.0M259.3 318.5h1.0M261.3 318.5h2.0M256.4 319.5h1.0M262.3 319.5h1.0M264.3 319.5h1.0M268.2 319.5h2.0M272.1 319.5h2.0M263.3 320.5h1.0M265.2 320.5h2.0M269.2 320.5h1.0M259.3 321.5h1.0M263.3 321.5h1.0M260.3 322.5h1.0M264.3 322.5h1.0M270.2 322.5h1.0M272.1 322.5h1.0M266.2 323.5h1.0M273.1 323.5h1.0M269.2 324.5h2.0M262.3 325.5h2.0M270.2 325.5h2.0M262.3 326.5h3.9M267.2 326.5h1.0M272.1 326.5h1.0M266.2 327.5h1.0M271.1 327.5h2.0M261.3 328.5h1.0M266.2 328.5h1.0M268.2 328.5h1.0M260.3 329.5h2.0M266.2 329.5h2.0M257.4 330.5h2.0M265.2 331.5h1.0M256.4 332.5h3.0M265.2 332.5h1.0M268.2 332.5h1.0M256.4 333.5h1.0M259.3 333.5h1.0M253.4 334.5h1.0M259.3 334.5h1.0M261.3 334.5h1.0M266.2 334.5h1.0M272.1 334.5h1.0M260.3 335.5h1.0M258.3 336.5h1.0M255.4 337.5h1.0M267.2 337.5h1.0M272.1 337.5h1.0M262.3 338.5h1.0M264.3 338.5h1.0M264.3 339.5h1.0M266.2 339.5h1.0M256.4 340.5h1.0M270.2 341.5h1.0M257.4 343.5h1.0M261.3 344.5h1.0M262.3 345.5h2.0M263.3 346.5h1.0M268.2 346.5h1.0M269.2 347.5h1.0M267.2 349.5h1.0M270.2 349.5h2.0M267.2 350.5h1.0M269.2 350.5h2.0M257.4 351.5h1.0M261.3 351.5h1.0M266.2 351.5h1.0M269.2 351.5h2.0M265.2 352.5h1.0M267.2 352.5h1.0M269.2 352.5h1.0M257.4 353.5h1.0M263.3 353.5h1.0M268.2 353.5h1.0M270.2 353.5h1.0M267.2 354.5h1.0M269.2 354.5h1.0M257.4 355.5h1.0M259.3 355.5h1.0M273.1 355.5h1.0M253.4 356.5h1.0M259.3 356.5h1.0M255.4 357.5h1.0M255.4 358.5h2.0M259.3 358.5h1.0M272.1 358.5h2.0M249.5 359.5h1.0M259.3 359.5h1.0M262.3 359.5h1.0M273.1 359.5h1.0M248.5 360.5h1.0M270.2 360.5h1.0M258.3 361.5h1.0M253.4 362.5h1.0M261.3 362.5h1.0M266.2 362.5h1.0M271.1 362.5h1.0M261.3 364.5h1.0M267.2 364.5h1.0M257.4 365.5h1.0M260.3 365.5h1.0M270.2 365.5h3.9M256.4 366.5h1.0M271.1 366.5h1.0M258.3 367.5h1.0M270.2 368.5h1.0M259.3 369.5h1.0M272.1 370.5h1.0M256.4 371.5h1.0M259.3 374.5h1.0M270.2 374.5h1.0M248.5 375.5h1.0M258.3 376.5h1.0M260.3 377.5h1.0M258.3 379.5h1.0M253.4 380.5h2.0M258.3 380.5h2.0M261.3 380.5h1.0M270.2 380.5h1.0M253.4 381.5h1.0M264.3 381.5h1.0M270.2 381.5h1.0M259.3 383.5h1.0M264.3 383.5h1.0M258.3 387.5h1.0M262.3 387.5h1.0M259.3 389.5h1.0M259.3 390.5h1.0M252.4 392.5h1.0M255.4 392.5h1.0M260.3 392.5h1.0M267.2 393.5h1.0M270.2 393.5h1.0M251.5 394.5h1.0M255.4 394.5h1.0M258.3 394.5h1.0M260.3 394.5h1.0M263.3 394.5h1.0M270.2 394.5h1.0M262.3 395.5h1.0M258.3 396.5h1.0M261.3 396.5h1.0M264.3 396.5h1.0M265.2 397.5h1.0M266.2 398.5h1.0M255.4 399.5h1.0M262.3 399.5h1.0M264.3 399.5h1.0M273.1 399.5h1.0M258.3 400.5h1.0M261.3 403.5h1.0M258.3 405.5h2.0M264.3 405.5h1.0M256.4 407.5h1.0M250.5 408.5h1.0M253.4 408.5h1.0M259.3 408.5h1.0M251.5 409.5h1.0M253.4 409.5h1.0M263.3 409.5h1.0M259.3 410.5h2.0M259.3 411.5h1.0M263.3 412.5h1.0M271.1 412.5h1.0M258.3 413.5h1.0M270.2 413.5h1.0M255.4 414.5h1.0M258.3 414.5h1.0M260.3 415.5h1.0M250.5 416.5h1.0M259.3 416.5h2.0M252.4 417.5h1.0M254.4 417.5h1.0M258.3 417.5h1.0M251.5 418.5h1.0M259.3 418.5h1.0M250.5 420.5h2.0M259.3 420.5h1.0M249.5 422.5h1.0M258.3 422.5h1.0M262.3 422.5h1.0M266.2 422.5h1.0M255.4 423.5h2.0M259.3 423.5h1.0M270.2 423.5h1.0M255.4 424.5h1.0M259.3 424.5h1.0M270.2 424.5h1.0M253.4 425.5h1.0M255.4 425.5h1.0M258.3 425.5h3.0M264.3 426.5h1.0M248.5 428.5h1.0M259.3 429.5h1.0M264.3 430.5h1.0M264.3 431.5h1.0M266.2 431.5h1.0M269.2 431.5h1.0M262.3 432.5h1.0M266.2 432.5h1.0M249.5 433.5h1.0M260.3 433.5h1.0M264.3 433.5h1.0M257.4 434.5h1.0M259.3 434.5h1.0M263.3 434.5h1.0M265.2 434.5h1.0M260.3 435.5h1.0M265.2 435.5h1.0M272.1 435.5h1.0M257.4 436.5h1.0M259.3 436.5h2.0M265.2 436.5h2.0M263.3 437.5h1.0M265.2 437.5h1.0M266.2 438.5h1.0M254.4 439.5h1.0M256.4 439.5h1.0M258.3 439.5h1.0M255.4 440.5h1.0M262.3 440.5h1.0M266.2 440.5h1.0M261.3 441.5h1.0M261.3 442.5h1.0M263.3 442.5h1.0M248.5 443.5h1.0M250.5 444.5h1.0M252.4 444.5h1.0M256.4 444.5h1.0M259.3 444.5h3.9M256.4 445.5h1.0M260.3 445.5h1.0M262.3 445.5h1.0"/>
<path stroke="#48ba3e" stroke-width="1.02" fill="none" d="M248.5 39.5h1.0M248.5 40.5h1.0M251.5 40.5h1.0M248.5 41.5h1.0M251.5 41.5h3.0M248.5 42.5h1.0M251.5 44.5h1.0M253.4 44.5h1.0M248.5 45.5h2.0M252.4 45.5h1.0M254.4 45.5h1.0M254.4 46.5h1.0M249.5 48.5h1.0M248.5 50.5h3.0M268.2 50.5h1.0M248.5 51.5h1.0M255.4 52.5h1.0M249.5 54.5h1.0M254.4 54.5h2.0M252.4 55.5h1.0M252.4 56.5h1.0M249.5 57.5h1.0M251.5 57.5h1.0M253.4 57.5h1.0M249.5 58.5h1.0M248.5 59.5h1.0M254.4 59.5h1.0M271.1 59.5h1.0M249.5 61.5h1.0M255.4 61.5h1.0M253.4 62.5h2.0M253.4 63.5h1.0M252.4 65.5h1.0M255.4 66.5h1.0M249.5 67.5h1.0M253.4 67.5h2.0M249.5 68.5h2.0M252.4 68.5h1.0M254.4 68.5h2.0M250.5 69.5h1.0M255.4 69.5h1.0M248.5 71.5h2.0M252.4 71.5h1.0M248.5 72.5h3.0M252.4 72.5h3.9M248.5 73.5h3.9M254.4 73.5h2.0M269.2 73.5h1.0M248.5 74.5h7.9M261.3 74.5h1.0M268.2 74.5h1.0M248.5 75.5h7.9M249.5 76.5h2.0M254.4 76.5h2.0M272.1 76.5h1.0M250.5 77.5h1.0M254.4 77.5h1.0M250.5 78.5h5.9M250.5 79.5h5.9M267.2 79.5h1.0M248.5 80.5h7.9M248.5 81.5h7.9M270.2 81.5h1.0M248.5 82.5h7.9M267.2 82.5h1.0M270.2 82.5h1.0M248.5 83.5h7.9M272.1 83.5h1.0M248.5 84.5h7.9M272.1 84.5h2.0M248.5 85.5h7.9M271.1 85.5h2.0M248.5 86.5h3.9M253.4 86.5h3.0M269.2 86.5h1.0M249.5 87.5h2.0M254.4 87.5h2.0M270.2 87.5h1.0M250.5 88.5h1.0M249.5 89.5h1.0M252.4 89.5h3.9M249.5 90.5h6.9M268.2 90.5h1.0M248.5 91.5h3.0M253.4 91.5h3.0M249.5 92.5h3.0M253.4 92.5h3.0M248.5 93.5h7.9M248.5 94.5h3.9M253.4 94.5h1.0M255.4 94.5h1.0M271.1 94.5h1.0M273.1 94.5h1.0M248.5 95.5h7.9M248.5 96.5h3.0M253.4 96.5h1.0M248.5 97.5h3.9M253.4 97.5h3.0M248.5 98.5h7.9M248.5 99.5h2.0M252.4 99.5h1.0M255.4 99.5h1.0M268.2 99.5h2.0M273.1 99.5h1.0M248.5 100.5h1.0M252.4 100.5h1.0M255.4 100.5h1.0M268.2 100.5h1.0M251.5 103.5h1.0M251.5 104.5h1.0M248.5 105.5h3.9M255.4 105.5h1.0M248.5 106.5h2.0M251.5 106.5h2.0M254.4 106.5h2.0M252.4 107.5h1.0M254.4 107.5h1.0M250.5 108.5h1.0M248.5 109.5h1.0M250.5 109.5h3.0M248.5 110.5h1.0M250.5 110.5h1.0M252.4 110.5h1.0M249.5 111.5h1.0M254.4 111.5h2.0M254.4 112.5h2.0M254.4 113.5h2.0M254.4 114.5h1.0M249.5 115.5h1.0M251.5 115.5h2.0M248.5 116.5h4.9M255.4 116.5h1.0M248.5 117.5h7.9M248.5 118.5h1.0M250.5 118.5h1.0M253.4 118.5h2.0M248.5 119.5h1.0M248.5 120.5h1.0M250.5 120.5h2.0M253.4 120.5h3.0M251.5 121.5h4.9M252.4 122.5h1.0M251.5 124.5h1.0M254.4 124.5h1.0M249.5 125.5h2.0M254.4 125.5h2.0M254.4 126.5h2.0M251.5 127.5h1.0M253.4 127.5h1.0M255.4 127.5h1.0M253.4 128.5h1.0M248.5 129.5h2.0M251.5 129.5h4.9M248.5 130.5h6.9M249.5 131.5h3.0M254.4 131.5h2.0M252.4 132.5h1.0M249.5 135.5h2.0M249.5 136.5h3.0M254.4 136.5h2.0M249.5 137.5h3.9M255.4 137.5h1.0M248.5 138.5h1.0M251.5 139.5h1.0M251.5 140.5h1.0M250.5 141.5h1.0M252.4 141.5h1.0M271.1 141.5h1.0M249.5 142.5h2.0M252.4 142.5h3.9M249.5 143.5h2.0M253.4 143.5h1.0M273.1 143.5h1.0M250.5 144.5h1.0M273.1 144.5h1.0M252.4 145.5h1.0M262.3 145.5h1.0M270.2 146.5h1.0M251.5 147.5h1.0M254.4 147.5h1.0M269.2 147.5h2.0M272.1 147.5h1.0M248.5 148.5h2.0M252.4 148.5h1.0M248.5 149.5h2.0M248.5 150.5h2.0M251.5 150.5h3.0M251.5 151.5h2.0M248.5 152.5h1.0M252.4 152.5h1.0M252.4 153.5h2.0M253.4 155.5h1.0M253.4 156.5h3.0M251.5 157.5h1.0M254.4 157.5h1.0M273.1 157.5h1.0M250.5 158.5h2.0M249.5 159.5h2.0M255.4 159.5h1.0M268.2 159.5h1.0M254.4 160.5h1.0M254.4 161.5h1.0M254.4 162.5h2.0M248.5 163.5h3.0M254.4 163.5h1.0M250.5 164.5h1.0M254.4 164.5h1.0M260.3 164.5h1.0M265.2 164.5h1.0M272.1 164.5h1.0M250.5 165.5h2.0M254.4 165.5h1.0M265.2 165.5h1.0M269.2 165.5h1.0M265.2 166.5h1.0M252.4 167.5h1.0M254.4 167.5h2.0M252.4 168.5h1.0M254.4 169.5h1.0M251.5 170.5h2.0M248.5 171.5h1.0M254.4 171.5h1.0M248.5 172.5h1.0M251.5 173.5h1.0M248.5 175.5h1.0M251.5 175.5h1.0M255.4 175.5h1.0M248.5 176.5h1.0M248.5 177.5h1.0M272.1 178.5h1.0M249.5 179.5h2.0M252.4 179.5h1.0M272.1 179.5h1.0M248.5 181.5h1.0M256.4 181.5h1.0M251.5 184.5h1.0M263.3 187.5h1.0M270.2 187.5h1.0M249.5 188.5h1.0M263.3 188.5h1.0M261.3 189.5h1.0M266.2 193.5h1.0M264.3 194.5h1.0M263.3 195.5h1.0M262.3 198.5h1.0M273.1 198.5h1.0M248.5 200.5h2.0M268.2 200.5h1.0M266.2 201.5h1.0M268.2 203.5h1.0M270.2 203.5h1.0M249.5 204.5h1.0M251.5 204.5h2.0M265.2 204.5h1.0M251.5 205.5h1.0M263.3 206.5h2.0M264.3 207.5h1.0M265.2 212.5h2.0M266.2 213.5h1.0M260.3 214.5h1.0M267.2 214.5h1.0M273.1 214.5h1.0M263.3 215.5h1.0M261.3 219.5h1.0M261.3 220.5h1.0M256.4 222.5h1.0M258.3 222.5h3.9M256.4 223.5h1.0M260.3 223.5h1.0M259.3 228.5h3.0M258.3 229.5h1.0M257.4 232.5h1.0M258.3 234.5h1.0M257.4 235.5h3.0M262.3 235.5h3.9M257.4 236.5h1.0M259.3 236.5h1.0M262.3 236.5h4.9M256.4 237.5h1.0M259.3 237.5h1.0M262.3 237.5h2.0M263.3 238.5h2.0M260.3 239.5h1.0M264.3 239.5h1.0M257.4 240.5h3.9M262.3 240.5h1.0M265.2 240.5h2.0M257.4 241.5h1.0M260.3 241.5h5.9M264.3 242.5h1.0M260.3 245.5h1.0M261.3 246.5h1.0M263.3 246.5h1.0M259.3 247.5h2.0M257.4 248.5h2.0M260.3 248.5h1.0M265.2 248.5h1.0M257.4 249.5h1.0M260.3 249.5h3.0M264.3 249.5h2.0M256.4 250.5h1.0M258.3 250.5h1.0M260.3 250.5h2.0M265.2 250.5h2.0M258.3 251.5h1.0M260.3 251.5h2.0M257.4 252.5h2.0M261.3 252.5h3.0M266.2 252.5h1.0M257.4 253.5h2.0M260.3 253.5h1.0M262.3 253.5h2.0M257.4 254.5h7.9M266.2 254.5h1.0M266.2 255.5h1.0M259.3 257.5h2.0M259.3 258.5h2.0M257.4 259.5h1.0M264.3 259.5h1.0M259.3 261.5h1.0M258.3 262.5h1.0M261.3 262.5h1.0M263.3 262.5h3.0M257.4 263.5h3.0M261.3 263.5h2.0M264.3 263.5h1.0M257.4 264.5h5.9M266.2 264.5h1.0M266.2 265.5h1.0M257.4 266.5h2.0M265.2 266.5h2.0M257.4 267.5h1.0M259.3 267.5h1.0M261.3 267.5h2.0M265.2 267.5h1.0M257.4 268.5h1.0M259.3 268.5h1.0M257.4 269.5h2.0M261.3 269.5h3.0M266.2 269.5h1.0M258.3 270.5h1.0M260.3 270.5h1.0M262.3 270.5h3.0M257.4 271.5h1.0M260.3 271.5h1.0M263.3 271.5h1.0M257.4 272.5h1.0M259.3 272.5h3.0M264.3 272.5h2.0M257.4 273.5h3.0M257.4 276.5h1.0M270.2 276.5h2.0M256.4 277.5h1.0M265.2 277.5h2.0M270.2 277.5h1.0M257.4 278.5h1.0M265.2 278.5h1.0M268.2 279.5h1.0M258.3 280.5h2.0M264.3 280.5h2.0M270.2 280.5h1.0M258.3 283.5h1.0M271.1 283.5h1.0M258.3 284.5h2.0M268.2 284.5h1.0M271.1 284.5h1.0M262.3 287.5h1.0M266.2 287.5h1.0M273.1 287.5h1.0M257.4 288.5h1.0M268.2 288.5h1.0M265.2 290.5h1.0M257.4 291.5h1.0M262.3 291.5h1.0M265.2 291.5h1.0M271.1 291.5h1.0M257.4 292.5h1.0M261.3 292.5h1.0M257.4 293.5h1.0M267.2 293.5h1.0M258.3 294.5h2.0M264.3 294.5h1.0M266.2 294.5h1.0M261.3 295.5h1.0M264.3 295.5h1.0M266.2 295.5h1.0M268.2 295.5h2.0M258.3 298.5h1.0M262.3 298.5h1.0M266.2 298.5h1.0M271.1 298.5h1.0M257.4 299.5h2.0M271.1 299.5h1.0M258.3 300.5h1.0M260.3 300.5h1.0M264.3 300.5h3.9M270.2 300.5h1.0M258.3 301.5h1.0M262.3 301.5h1.0M264.3 301.5h1.0M266.2 301.5h1.0M272.1 301.5h1.0M262.3 302.5h1.0M260.3 303.5h3.9M268.2 303.5h1.0M271.1 303.5h1.0M255.4 304.5h1.0M259.3 304.5h3.0M264.3 304.5h1.0M271.1 304.5h1.0M260.3 305.5h1.0M262.3 305.5h3.0M271.1 305.5h1.0M260.3 307.5h1.0M260.3 308.5h2.0M260.3 309.5h1.0M263.3 309.5h1.0M262.3 310.5h2.0M262.3 311.5h2.0M266.2 311.5h1.0M256.4 312.5h3.0M262.3 312.5h1.0M266.2 312.5h2.0M262.3 313.5h1.0M266.2 313.5h1.0M256.4 315.5h5.9M263.3 315.5h2.0M258.3 316.5h2.0M261.3 316.5h1.0M263.3 316.5h1.0M260.3 318.5h1.0M265.2 318.5h1.0M268.2 318.5h1.0M257.4 319.5h3.9M257.4 320.5h3.0M264.3 320.5h1.0M258.3 321.5h1.0M264.3 321.5h2.0M257.4 322.5h3.0M265.2 322.5h2.0M273.1 322.5h1.0M257.4 323.5h4.9M264.3 323.5h2.0M269.2 323.5h2.0M259.3 324.5h3.0M264.3 324.5h3.0M256.4 325.5h2.0M259.3 325.5h3.0M265.2 325.5h2.0M260.3 326.5h2.0M268.2 326.5h1.0M256.4 327.5h2.0M262.3 327.5h2.0M268.2 327.5h1.0M256.4 328.5h2.0M262.3 328.5h2.0M272.1 328.5h1.0M256.4 329.5h2.0M262.3 329.5h1.0M272.1 329.5h1.0M257.4 331.5h1.0M253.4 333.5h1.0M263.3 333.5h1.0M265.2 333.5h2.0M271.1 333.5h2.0M260.3 334.5h1.0M256.4 336.5h1.0M264.3 337.5h1.0M266.2 338.5h1.0M261.3 339.5h2.0M266.2 340.5h1.0M256.4 342.5h1.0M263.3 344.5h1.0M264.3 345.5h1.0M269.2 346.5h1.0M271.1 348.5h1.0M273.1 348.5h1.0M260.3 351.5h1.0M265.2 351.5h1.0M267.2 351.5h2.0M268.2 352.5h1.0M271.1 353.5h1.0M263.3 354.5h1.0M268.2 354.5h1.0M268.2 355.5h1.0M254.4 357.5h1.0M257.4 357.5h1.0M260.3 358.5h1.0M248.5 359.5h1.0M257.4 359.5h1.0M260.3 359.5h2.0M270.2 359.5h1.0M257.4 360.5h2.0M258.3 362.5h3.0M269.2 362.5h1.0M251.5 365.5h1.0M261.3 365.5h1.0M257.4 366.5h2.0M261.3 366.5h1.0M257.4 367.5h1.0M261.3 367.5h1.0M261.3 368.5h1.0M261.3 369.5h1.0M271.1 369.5h1.0M256.4 370.5h2.0M259.3 370.5h1.0M273.1 370.5h1.0M259.3 371.5h2.0M269.2 373.5h1.0M260.3 374.5h1.0M256.4 376.5h1.0M256.4 377.5h1.0M252.4 380.5h1.0M271.1 380.5h1.0M271.1 381.5h1.0M257.4 383.5h2.0M263.3 383.5h1.0M266.2 383.5h1.0M258.3 384.5h1.0M263.3 384.5h1.0M258.3 388.5h2.0M262.3 388.5h1.0M258.3 389.5h1.0M264.3 389.5h1.0M258.3 390.5h1.0M265.2 390.5h1.0M265.2 391.5h1.0M253.4 392.5h1.0M256.4 392.5h1.0M250.5 393.5h1.0M255.4 393.5h2.0M257.4 394.5h1.0M259.3 394.5h1.0M262.3 394.5h1.0M257.4 395.5h1.0M265.2 395.5h1.0M265.2 396.5h1.0M266.2 397.5h1.0M256.4 399.5h2.0M260.3 399.5h2.0M263.3 399.5h1.0M256.4 400.5h1.0M259.3 400.5h2.0M259.3 403.5h1.0M258.3 404.5h3.0M260.3 405.5h1.0M259.3 406.5h1.0M271.1 407.5h1.0M251.5 408.5h1.0M266.2 408.5h2.0M258.3 411.5h1.0M260.3 411.5h2.0M263.3 411.5h1.0M271.1 411.5h1.0M258.3 412.5h1.0M260.3 412.5h2.0M251.5 413.5h1.0M271.1 413.5h1.0M251.5 414.5h1.0M254.4 414.5h1.0M259.3 414.5h1.0M255.4 415.5h2.0M259.3 415.5h1.0M252.4 416.5h1.0M257.4 417.5h1.0M257.4 418.5h2.0M261.3 418.5h2.0M250.5 419.5h1.0M259.3 419.5h1.0M266.2 419.5h1.0M261.3 421.5h1.0M265.2 421.5h1.0M257.4 422.5h1.0M261.3 422.5h1.0M270.2 422.5h1.0M257.4 423.5h1.0M261.3 423.5h1.0M256.4 424.5h1.0M261.3 424.5h1.0M261.3 425.5h1.0M256.4 426.5h3.0M261.3 426.5h2.0M248.5 427.5h1.0M256.4 427.5h3.0M261.3 427.5h1.0M258.3 428.5h2.0M258.3 431.5h2.0M263.3 431.5h1.0M256.4 432.5h3.0M255.4 433.5h1.0M257.4 433.5h3.0M258.3 434.5h1.0M261.3 434.5h1.0M264.3 434.5h1.0M268.2 434.5h1.0M272.1 434.5h2.0M258.3 435.5h2.0M261.3 435.5h1.0M263.3 435.5h2.0M256.4 436.5h1.0M264.3 436.5h1.0M257.4 437.5h2.0M266.2 437.5h1.0M257.4 438.5h2.0M263.3 438.5h1.0M253.4 440.5h2.0M249.5 443.5h1.0M263.3 443.5h1.0M266.2 444.5h1.0"/>
<path stroke="#e2320f" stroke-width="1.02" fill="none" d="M257.4 39.5h1.0M262.3 39.5h1.0M257.4 40.5h1.0M267.2 40.5h2.0M271.1 40.5h1.0M256.4 41.5h1.0M260.3 41.5h2.0M268.2 41.5h1.0M256.4 42.5h1.0M267.2 43.5h3.9M261.3 45.5h1.0M264.3 45.5h1.0M262.3 46.5h1.0M259.3 47.5h2.0M263.3 47.5h1.0M266.2 47.5h1.0M259.3 48.5h2.0M263.3 48.5h1.0M253.4 49.5h1.0M265.2 49.5h1.0M259.3 50.5h2.0M262.3 50.5h1.0M258.3 52.5h1.0M265.2 52.5h1.0M258.3 53.5h1.0M256.4 54.5h1.0M259.3 54.5h3.0M268.2 54.5h1.0M260.3 55.5h2.0M257.4 57.5h1.0M259.3 59.5h1.0M263.3 59.5h1.0M273.1 59.5h1.0M263.3 60.5h1.0M267.2 61.5h2.0M271.1 61.5h1.0M261.3 62.5h1.0M268.2 62.5h1.0M270.2 64.5h2.0M273.1 64.5h1.0M268.2 65.5h1.0M259.3 67.5h1.0M263.3 67.5h2.0M264.3 68.5h1.0M273.1 68.5h1.0M270.2 69.5h1.0M257.4 71.5h1.0M259.3 73.5h1.0M262.3 73.5h1.0M270.2 73.5h1.0M272.1 74.5h1.0M257.4 75.5h3.0M265.2 75.5h2.0M269.2 75.5h1.0M257.4 76.5h3.0M262.3 76.5h1.0M266.2 76.5h1.0M258.3 77.5h2.0M261.3 77.5h2.0M264.3 77.5h1.0M258.3 78.5h4.9M264.3 78.5h2.0M258.3 79.5h3.9M264.3 79.5h3.0M257.4 80.5h3.9M265.2 80.5h2.0M257.4 81.5h10.8M257.4 82.5h1.0M259.3 82.5h7.9M257.4 83.5h1.0M261.3 83.5h2.0M264.3 83.5h3.0M257.4 84.5h9.8M258.3 85.5h8.9M257.4 86.5h2.0M260.3 86.5h1.0M262.3 86.5h1.0M264.3 86.5h2.0M265.2 87.5h2.0M261.3 88.5h1.0M260.3 89.5h2.0M263.3 89.5h1.0M265.2 89.5h1.0M261.3 90.5h5.9M256.4 91.5h1.0M259.3 91.5h2.0M262.3 91.5h4.9M256.4 92.5h3.0M260.3 92.5h4.9M257.4 93.5h8.9M257.4 94.5h4.9M264.3 94.5h2.0M257.4 95.5h4.9M264.3 95.5h2.0M258.3 96.5h2.0M257.4 97.5h1.0M259.3 97.5h1.0M262.3 97.5h3.0M266.2 97.5h1.0M256.4 98.5h4.9M262.3 98.5h2.0M266.2 98.5h1.0M271.1 98.5h1.0M257.4 99.5h4.9M266.2 99.5h1.0M260.3 100.5h1.0M269.2 101.5h1.0M269.2 102.5h1.0M260.3 103.5h1.0M264.3 103.5h1.0M257.4 104.5h2.0M264.3 104.5h1.0M270.2 104.5h1.0M272.1 104.5h1.0M256.4 105.5h2.0M263.3 105.5h3.9M262.3 106.5h1.0M267.2 107.5h1.0M258.3 108.5h1.0M268.2 108.5h1.0M270.2 108.5h2.0M256.4 109.5h1.0M260.3 109.5h1.0M270.2 109.5h1.0M256.4 110.5h2.0M259.3 110.5h1.0M261.3 110.5h3.0M266.2 110.5h1.0M257.4 111.5h2.0M261.3 111.5h2.0M266.2 111.5h1.0M261.3 112.5h1.0M266.2 112.5h1.0M262.3 113.5h1.0M260.3 114.5h1.0M260.3 115.5h1.0M257.4 116.5h5.9M257.4 117.5h1.0M259.3 117.5h3.0M267.2 117.5h1.0M270.2 117.5h1.0M273.1 117.5h1.0M257.4 118.5h1.0M259.3 118.5h2.0M266.2 118.5h1.0M271.1 118.5h2.0M257.4 119.5h1.0M259.3 119.5h1.0M257.4 120.5h1.0M259.3 120.5h1.0M258.3 121.5h2.0M271.1 121.5h1.0M258.3 122.5h1.0M261.3 122.5h1.0M259.3 124.5h3.0M258.3 125.5h3.0M258.3 126.5h2.0M262.3 126.5h1.0M259.3 127.5h1.0M262.3 127.5h1.0M257.4 128.5h1.0M257.4 129.5h2.0M260.3 129.5h3.0M270.2 129.5h1.0M256.4 130.5h2.0M261.3 130.5h2.0M270.2 130.5h1.0M257.4 131.5h2.0M265.2 131.5h1.0M272.1 131.5h1.0M258.3 132.5h1.0M261.3 133.5h1.0M257.4 135.5h1.0M260.3 135.5h1.0M263.3 135.5h2.0M269.2 135.5h1.0M259.3 136.5h1.0M261.3 136.5h1.0M263.3 136.5h2.0M273.1 136.5h1.0M259.3 137.5h1.0M261.3 137.5h1.0M264.3 137.5h2.0M267.2 137.5h2.0M257.4 138.5h3.9M264.3 138.5h2.0M267.2 138.5h1.0M258.3 139.5h2.0M263.3 139.5h1.0M259.3 140.5h1.0M254.4 141.5h1.0M272.1 142.5h1.0M265.2 143.5h1.0M248.5 145.5h1.0M256.4 145.5h2.0M272.1 145.5h1.0M248.5 146.5h1.0M259.3 146.5h1.0M267.2 146.5h1.0M259.3 147.5h1.0M264.3 147.5h1.0M267.2 147.5h1.0M263.3 149.5h3.0M273.1 149.5h1.0M259.3 152.5h2.0M266.2 152.5h1.0M266.2 153.5h1.0M248.5 155.5h1.0M261.3 157.5h1.0M261.3 161.5h1.0M264.3 161.5h1.0M273.1 163.5h1.0M258.3 164.5h1.0M258.3 165.5h1.0M261.3 167.5h1.0M256.4 170.5h1.0M259.3 171.5h2.0M259.3 172.5h1.0M258.3 175.5h2.0M273.1 177.5h1.0M256.4 178.5h1.0M267.2 178.5h2.0M261.3 179.5h1.0M252.4 181.5h1.0M268.2 181.5h1.0M252.4 182.5h2.0M258.3 182.5h2.0M267.2 182.5h2.0M271.1 182.5h1.0M258.3 183.5h2.0M266.2 183.5h2.0M271.1 183.5h1.0M259.3 184.5h1.0M259.3 187.5h1.0M256.4 188.5h1.0M258.3 188.5h1.0M258.3 189.5h1.0M248.5 190.5h1.0M253.4 191.5h1.0M256.4 191.5h1.0M250.5 192.5h1.0M256.4 192.5h1.0M248.5 193.5h1.0M270.2 193.5h1.0M270.2 194.5h1.0M256.4 196.5h1.0M273.1 200.5h1.0M248.5 203.5h1.0M253.4 204.5h1.0M257.4 204.5h1.0M263.3 204.5h1.0M261.3 206.5h1.0M255.4 208.5h1.0M260.3 208.5h1.0M268.2 212.5h1.0M255.4 213.5h1.0M255.4 214.5h1.0M272.1 214.5h1.0M258.3 215.5h1.0M271.1 215.5h1.0M248.5 218.5h2.0M254.4 218.5h2.0M262.3 218.5h2.0M267.2 218.5h1.0M270.2 218.5h3.9M254.4 219.5h1.0M267.2 219.5h1.0M269.2 219.5h1.0M271.1 219.5h3.0M248.5 221.5h1.0M248.5 222.5h2.0M271.1 222.5h2.0M273.1 226.5h1.0M248.5 228.5h1.0M266.2 228.5h1.0M251.5 229.5h1.0M264.3 229.5h1.0M250.5 230.5h3.0M255.4 230.5h1.0M262.3 230.5h2.0M268.2 230.5h2.0M248.5 231.5h3.9M255.4 231.5h1.0M259.3 231.5h1.0M261.3 231.5h1.0M269.2 231.5h1.0M248.5 232.5h3.0M252.4 232.5h3.9M268.2 232.5h3.0M249.5 233.5h1.0M251.5 233.5h4.9M268.2 233.5h2.0M250.5 234.5h1.0M252.4 234.5h1.0M254.4 234.5h1.0M248.5 235.5h3.0M253.4 235.5h3.0M268.2 235.5h1.0M273.1 235.5h1.0M249.5 236.5h2.0M252.4 236.5h1.0M255.4 236.5h1.0M272.1 236.5h2.0M250.5 237.5h1.0M267.2 237.5h1.0M254.4 238.5h1.0M248.5 239.5h3.0M252.4 239.5h3.9M248.5 240.5h1.0M250.5 240.5h3.0M254.4 240.5h2.0M272.1 240.5h1.0M248.5 241.5h2.0M251.5 241.5h2.0M254.4 241.5h1.0M270.2 241.5h2.0M248.5 242.5h6.9M250.5 243.5h3.0M252.4 244.5h1.0M248.5 245.5h1.0M252.4 245.5h1.0M248.5 246.5h1.0M251.5 246.5h1.0M248.5 247.5h4.9M254.4 247.5h2.0M248.5 248.5h7.9M250.5 249.5h1.0M252.4 249.5h3.0M248.5 250.5h4.9M254.4 250.5h2.0M271.1 250.5h1.0M273.1 250.5h1.0M248.5 251.5h2.0M251.5 251.5h1.0M255.4 251.5h1.0M251.5 252.5h2.0M248.5 253.5h1.0M251.5 253.5h3.0M255.4 253.5h1.0M272.1 253.5h1.0M248.5 254.5h1.0M250.5 254.5h1.0M252.4 254.5h3.9M253.4 255.5h1.0M253.4 256.5h1.0M248.5 257.5h1.0M252.4 257.5h1.0M254.4 257.5h1.0M270.2 258.5h1.0M250.5 259.5h1.0M248.5 260.5h1.0M250.5 260.5h1.0M254.4 260.5h1.0M250.5 261.5h1.0M253.4 261.5h1.0M255.4 261.5h1.0M248.5 262.5h4.9M254.4 262.5h2.0M273.1 262.5h1.0M248.5 263.5h1.0M250.5 263.5h2.0M254.4 263.5h2.0M269.2 263.5h1.0M250.5 264.5h3.0M254.4 264.5h2.0M248.5 266.5h1.0M251.5 266.5h2.0M271.1 266.5h1.0M250.5 267.5h3.0M254.4 267.5h1.0M267.2 267.5h1.0M250.5 268.5h1.0M254.4 268.5h1.0M248.5 269.5h2.0M253.4 269.5h3.0M248.5 270.5h3.0M255.4 270.5h1.0M249.5 271.5h1.0M252.4 271.5h1.0M248.5 272.5h3.9M253.4 272.5h1.0M255.4 272.5h1.0M269.2 272.5h1.0M248.5 273.5h1.0M251.5 273.5h1.0M254.4 273.5h2.0M269.2 273.5h1.0M251.5 274.5h1.0M249.5 275.5h2.0M252.4 275.5h2.0M249.5 276.5h5.9M248.5 277.5h1.0M250.5 277.5h3.0M249.5 278.5h2.0M252.4 278.5h1.0M248.5 280.5h1.0M252.4 281.5h1.0M252.4 282.5h1.0M254.4 282.5h1.0M250.5 283.5h3.0M255.4 283.5h1.0M248.5 284.5h1.0M250.5 284.5h1.0M248.5 285.5h1.0M255.4 286.5h1.0M248.5 287.5h1.0M255.4 287.5h1.0M248.5 288.5h1.0M249.5 290.5h1.0M253.4 290.5h3.0M254.4 291.5h1.0M255.4 292.5h1.0M251.5 293.5h2.0M251.5 294.5h1.0M249.5 295.5h4.9M273.1 295.5h1.0M250.5 296.5h1.0M253.4 296.5h1.0M251.5 297.5h1.0M254.4 297.5h1.0M249.5 298.5h3.0M254.4 298.5h1.0M248.5 299.5h1.0M251.5 299.5h1.0M249.5 300.5h3.0M253.4 300.5h1.0M255.4 300.5h1.0M262.3 300.5h1.0M251.5 301.5h1.0M254.4 301.5h2.0M250.5 303.5h1.0M251.5 304.5h1.0M253.4 304.5h2.0M248.5 305.5h1.0M251.5 305.5h3.9M249.5 307.5h2.0M249.5 308.5h1.0M248.5 309.5h2.0M248.5 310.5h1.0M254.4 310.5h2.0M253.4 311.5h2.0M248.5 312.5h2.0M254.4 312.5h1.0M252.4 313.5h1.0M251.5 314.5h1.0M254.4 314.5h1.0M267.2 314.5h1.0M248.5 315.5h4.9M254.4 315.5h1.0M248.5 316.5h6.9M249.5 317.5h1.0M254.4 317.5h1.0M252.4 318.5h3.0M248.5 319.5h1.0M251.5 319.5h4.9M248.5 320.5h1.0M252.4 320.5h1.0M254.4 320.5h2.0M252.4 321.5h1.0M254.4 321.5h2.0M251.5 322.5h1.0M254.4 322.5h2.0M249.5 323.5h1.0M251.5 323.5h1.0M254.4 323.5h1.0M248.5 324.5h1.0M253.4 324.5h2.0M248.5 325.5h2.0M251.5 325.5h1.0M253.4 325.5h1.0M248.5 326.5h2.0M251.5 326.5h1.0M248.5 327.5h3.0M248.5 328.5h3.0M253.4 328.5h1.0M251.5 329.5h3.0M252.4 330.5h1.0M270.2 331.5h2.0M249.5 332.5h1.0M248.5 333.5h2.0M254.4 333.5h1.0M252.4 338.5h1.0M256.4 338.5h1.0M273.1 338.5h1.0M248.5 339.5h2.0M251.5 339.5h2.0M255.4 339.5h1.0M250.5 340.5h1.0M248.5 344.5h1.0M252.4 344.5h1.0M255.4 344.5h1.0M271.1 344.5h1.0M248.5 345.5h1.0M254.4 347.5h1.0M248.5 348.5h1.0M255.4 348.5h2.0M248.5 349.5h1.0M252.4 349.5h1.0M254.4 349.5h2.0M261.3 349.5h1.0M248.5 350.5h1.0M251.5 350.5h1.0M248.5 351.5h2.0M252.4 351.5h1.0M254.4 351.5h1.0M248.5 352.5h2.0M252.4 352.5h1.0M254.4 352.5h1.0M254.4 353.5h1.0M252.4 354.5h1.0M255.4 354.5h2.0M261.3 354.5h1.0M255.4 355.5h1.0M266.2 355.5h1.0M271.1 355.5h1.0M265.2 356.5h1.0M263.3 357.5h1.0M251.5 358.5h1.0M263.3 358.5h1.0M251.5 359.5h3.0M263.3 359.5h1.0M253.4 360.5h1.0M255.4 360.5h1.0M248.5 362.5h1.0M263.3 362.5h2.0M263.3 363.5h1.0M253.4 364.5h1.0M262.3 365.5h3.0M266.2 366.5h1.0M255.4 367.5h1.0M266.2 367.5h1.0M262.3 368.5h3.0M266.2 368.5h1.0M253.4 369.5h1.0M252.4 370.5h1.0M266.2 370.5h1.0M252.4 371.5h1.0M264.3 371.5h1.0M250.5 373.5h1.0M266.2 373.5h1.0M262.3 374.5h1.0M265.2 374.5h2.0M250.5 376.5h1.0M255.4 378.5h1.0M263.3 378.5h1.0M250.5 380.5h1.0M251.5 383.5h3.0M254.4 384.5h1.0M272.1 385.5h1.0M251.5 388.5h1.0M255.4 388.5h1.0M269.2 388.5h1.0M250.5 389.5h1.0M254.4 390.5h1.0M266.2 392.5h1.0M272.1 392.5h1.0M271.1 393.5h3.0M271.1 394.5h2.0M253.4 397.5h1.0M262.3 397.5h1.0M270.2 397.5h2.0M248.5 398.5h1.0M255.4 398.5h1.0M270.2 398.5h1.0M248.5 399.5h1.0M268.2 399.5h1.0M272.1 399.5h1.0M272.1 400.5h1.0M272.1 402.5h1.0M268.2 405.5h1.0M273.1 405.5h1.0M249.5 406.5h1.0M251.5 406.5h1.0M265.2 406.5h1.0M248.5 407.5h1.0M263.3 407.5h1.0M255.4 408.5h1.0M260.3 408.5h1.0M265.2 409.5h1.0M249.5 411.5h2.0M254.4 411.5h2.0M264.3 411.5h1.0M273.1 411.5h1.0M255.4 412.5h1.0M267.2 412.5h1.0M249.5 413.5h1.0M253.4 413.5h1.0M255.4 413.5h1.0M267.2 413.5h1.0M269.2 414.5h2.0M248.5 416.5h1.0M267.2 416.5h1.0M263.3 417.5h2.0M269.2 417.5h1.0M264.3 418.5h1.0M267.2 418.5h1.0M271.1 418.5h1.0M273.1 418.5h1.0M267.2 419.5h1.0M271.1 419.5h1.0M273.1 419.5h1.0M255.4 421.5h1.0M268.2 421.5h1.0M252.4 422.5h1.0M268.2 422.5h1.0M272.1 422.5h1.0M263.3 423.5h1.0M268.2 423.5h1.0M249.5 424.5h1.0M248.5 425.5h1.0M269.2 425.5h1.0M272.1 426.5h1.0M271.1 427.5h1.0M250.5 428.5h1.0M253.4 428.5h1.0M268.2 428.5h2.0M273.1 428.5h1.0M250.5 429.5h1.0M270.2 429.5h1.0M248.5 430.5h3.0M262.3 430.5h1.0M248.5 431.5h2.0M255.4 431.5h1.0M271.1 433.5h1.0M249.5 434.5h1.0M253.4 434.5h1.0M262.3 434.5h1.0M251.5 435.5h1.0M267.2 435.5h1.0M251.5 436.5h1.0M267.2 436.5h1.0M271.1 436.5h1.0M270.2 438.5h1.0M269.2 440.5h2.0M248.5 441.5h1.0M268.2 443.5h1.0M272.1 443.5h1.0M254.4 444.5h1.0M268.2 444.5h3.9"/>
</g></g>
<rect x="274.1" y="39" width="2.6" height="406" fill="#dadada"/>
<line x1="248.5" y1="25.4" x2="274.5" y2="25.4" stroke="#c4c4c4" stroke-width="0.8"/>
<path transform="translate(204.022,23.498) scale(0.13719,0.11995)" d="M327.60 120.90V110.90H334.85V120.90M331.23 110.90V108.40H342.10V120.90M349.35 120.90V105.50H356.60V120.90M336.66 108.40V103.40H352.98V105.50M344.82 103.40V102.30H363.85V120.90M354.33 102.30V96.10H371.10V120.90M362.72 96.10V93.40H378.35V120.90M385.60 120.90V92.00H392.85V120.90M400.10 120.90V98.20H407.35V120.90M403.73 98.20V86.90H414.60V120.90M429.10 120.90V89.50H436.35V120.90M421.85 120.90V85.00H432.73V89.50M409.16 86.90V84.60H427.29V85.00M389.23 92.00V82.60H418.23V84.60M443.60 120.90V91.10H450.85V120.90M403.73 82.60V79.50H447.23V91.10M465.35 120.90V80.50H472.60V120.90M458.10 120.90V72.60H468.98V80.50M487.10 120.90V84.60H494.35V120.90M479.85 120.90V80.50H490.73V84.60M463.54 72.60V70.80H485.29V80.50M501.60 120.90V77.40H508.85V120.90M474.41 70.80V65.10H505.23V77.40M425.48 79.50V56.90H489.82V65.10M370.53 93.40V39.20H457.65V56.90" fill="none" stroke="#a8a8a8" stroke-width="0.42" vector-effect="non-scaling-stroke"/>
</g></svg></body></html>
